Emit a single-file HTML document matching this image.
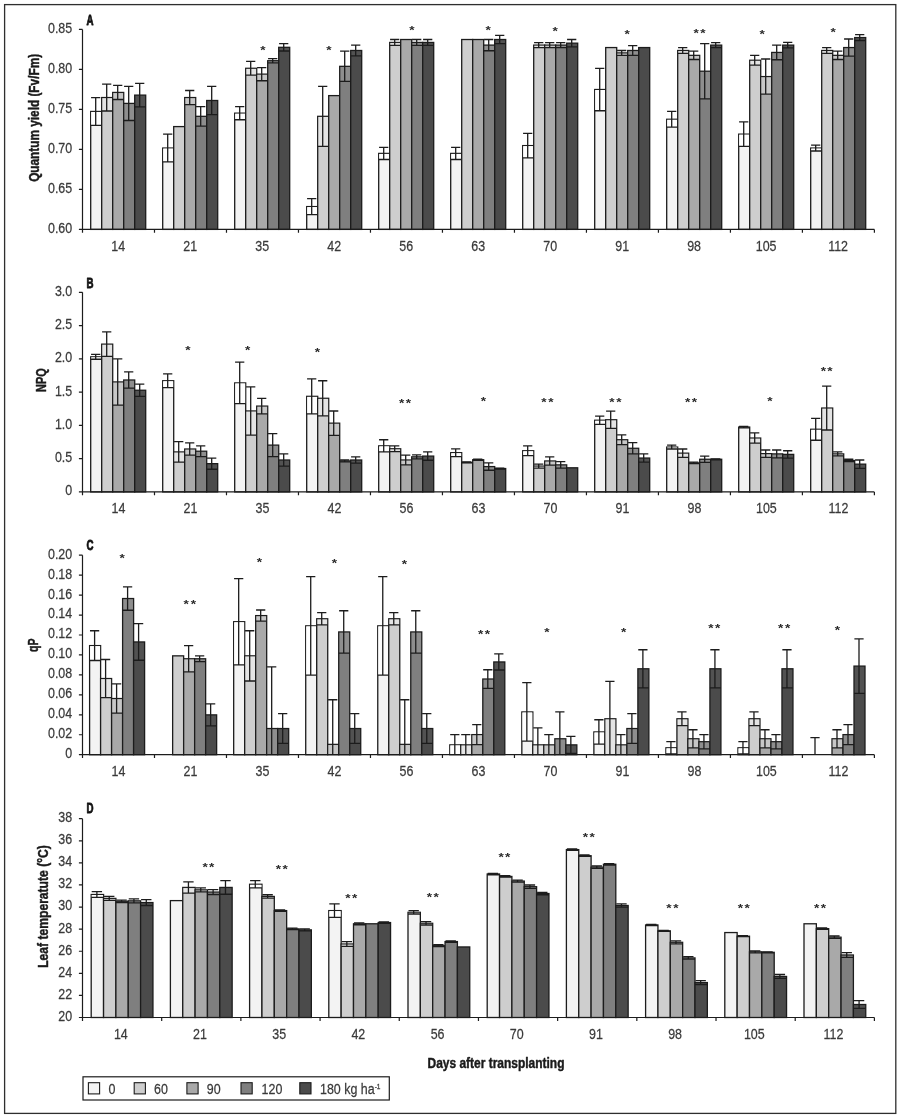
<!DOCTYPE html>
<html lang="en">
<head>
<meta charset="utf-8">
<title>Figure</title>
<style>
html,body{margin:0;padding:0;background:#fff;}
body{width:902px;height:1119px;overflow:hidden;}
svg{display:block;font-family:"Liberation Sans",sans-serif;}
</style>
</head>
<body>
<svg width="902" height="1119" viewBox="0 0 902 1119">
<rect x="0" y="0" width="902" height="1119" fill="#ffffff"/>
<rect x="4.6" y="4.6" width="891.2" height="1108.8" fill="none" stroke="#2e2e2e" stroke-width="1.3"/>
<g id="chartA">
<g stroke="#1c1c1c" stroke-width="1.3">
<rect x="90.7" y="111.46" width="11" height="117.94" fill="#f3f3f3"/>
<rect x="91.2" y="111.96" width="10" height="13.4" fill="#fff" fill-opacity="1" stroke="none"/>
<path d="M95.7 97.56V125.37M91.08 97.56H100.32M90.7 125.37H101.7" fill="none"/>
<rect x="101.7" y="97.56" width="11" height="131.84" fill="#cecece"/>
<rect x="102.2" y="98.06" width="10" height="12.91" fill="#fff" fill-opacity="0.45" stroke="none"/>
<path d="M106.7 84.15V110.98M102.08 84.15H111.32M101.7 110.98H112.7" fill="none"/>
<rect x="112.7" y="92.44" width="11" height="136.96" fill="#a9a9a9"/>
<rect x="113.2" y="92.94" width="10" height="6.57" fill="#fff" fill-opacity="0.35" stroke="none"/>
<path d="M117.7 85.37V99.51M113.08 85.37H122.32M112.7 99.51H123.7" fill="none"/>
<rect x="123.7" y="103.41" width="11" height="125.99" fill="#7f7f7f"/>
<rect x="124.2" y="103.91" width="10" height="16.57" fill="#fff" fill-opacity="0.12" stroke="none"/>
<path d="M128.7 86.34V120.49M124.08 86.34H133.32M123.7 120.49H134.7" fill="none"/>
<rect x="134.7" y="95.12" width="11" height="134.28" fill="#4b4b4b"/>
<rect x="135.2" y="95.62" width="10" height="11.21" fill="#fff" fill-opacity="0.04" stroke="none"/>
<path d="M139.7 83.41V106.83M135.08 83.41H144.32M134.7 106.83H145.7" fill="none"/>
<rect x="162.7" y="148.05" width="11" height="81.35" fill="#f3f3f3"/>
<rect x="163.2" y="148.55" width="10" height="13.4" fill="#fff" fill-opacity="1" stroke="none"/>
<path d="M167.7 134.15V161.95M163.08 134.15H172.32M162.7 161.95H173.7" fill="none"/>
<rect x="173.7" y="126.59" width="11" height="102.81" fill="#cecece"/>
<rect x="184.7" y="97.56" width="11" height="131.84" fill="#a9a9a9"/>
<rect x="185.2" y="98.06" width="10" height="6.57" fill="#fff" fill-opacity="0.35" stroke="none"/>
<path d="M189.7 90.49V104.63M185.08 90.49H194.32M184.7 104.63H195.7" fill="none"/>
<rect x="195.7" y="116.34" width="11" height="113.06" fill="#7f7f7f"/>
<rect x="196.2" y="116.84" width="10" height="9.26" fill="#fff" fill-opacity="0.12" stroke="none"/>
<path d="M200.7 106.59V126.1M196.08 106.59H205.32M195.7 126.1H206.7" fill="none"/>
<rect x="206.7" y="100.49" width="11" height="128.91" fill="#4b4b4b"/>
<rect x="207.2" y="100.99" width="10" height="13.65" fill="#fff" fill-opacity="0.04" stroke="none"/>
<path d="M211.7 86.34V114.63M207.08 86.34H216.32M206.7 114.63H217.7" fill="none"/>
<rect x="234.7" y="113.17" width="11" height="116.23" fill="#f3f3f3"/>
<rect x="235.2" y="113.67" width="10" height="6.09" fill="#fff" fill-opacity="1" stroke="none"/>
<path d="M239.7 106.59V119.76M235.08 106.59H244.32M234.7 119.76H245.7" fill="none"/>
<rect x="245.7" y="68.29" width="11" height="161.11" fill="#cecece"/>
<rect x="246.2" y="68.79" width="10" height="6.33" fill="#fff" fill-opacity="0.45" stroke="none"/>
<path d="M250.7 61.46V75.12M246.08 61.46H255.32M245.7 75.12H256.7" fill="none"/>
<rect x="256.7" y="74.15" width="11" height="155.25" fill="#a9a9a9"/>
<rect x="257.2" y="74.65" width="10" height="6.09" fill="#fff" fill-opacity="0.35" stroke="none"/>
<path d="M261.7 67.56V80.73M257.08 67.56H266.32M256.7 80.73H267.7" fill="none"/>
<rect x="267.7" y="60.73" width="11" height="168.67" fill="#7f7f7f"/>
<rect x="268.2" y="61.23" width="10" height="1.7" fill="#fff" fill-opacity="0.12" stroke="none"/>
<path d="M272.7 58.54V62.93M268.08 58.54H277.32M267.7 62.93H278.7" fill="none"/>
<rect x="278.7" y="47.32" width="11" height="182.08" fill="#4b4b4b"/>
<rect x="279.2" y="47.82" width="10" height="3.16" fill="#fff" fill-opacity="0.04" stroke="none"/>
<path d="M283.7 43.66V50.98M279.08 43.66H288.32M278.7 50.98H289.7" fill="none"/>
<rect x="306.7" y="206.59" width="11" height="22.81" fill="#f3f3f3"/>
<rect x="307.2" y="207.09" width="10" height="7.55" fill="#fff" fill-opacity="1" stroke="none"/>
<path d="M311.7 198.54V214.63M307.08 198.54H316.32M306.7 214.63H317.7" fill="none"/>
<rect x="317.7" y="116.34" width="11" height="113.06" fill="#cecece"/>
<rect x="318.2" y="116.84" width="10" height="29.5" fill="#fff" fill-opacity="0.45" stroke="none"/>
<path d="M322.7 86.34V146.34M318.08 86.34H327.32M317.7 146.34H328.7" fill="none"/>
<rect x="328.7" y="95.61" width="11" height="133.79" fill="#a9a9a9"/>
<rect x="339.7" y="66.34" width="11" height="163.06" fill="#7f7f7f"/>
<rect x="340.2" y="66.84" width="10" height="14.62" fill="#fff" fill-opacity="0.12" stroke="none"/>
<path d="M344.7 51.22V81.46M340.08 51.22H349.32M339.7 81.46H350.7" fill="none"/>
<rect x="350.7" y="50.49" width="11" height="178.91" fill="#4b4b4b"/>
<rect x="351.2" y="50.99" width="10" height="4.87" fill="#fff" fill-opacity="0.04" stroke="none"/>
<path d="M355.7 45.12V55.85M351.08 45.12H360.32M350.7 55.85H361.7" fill="none"/>
<rect x="378.7" y="153.41" width="11" height="75.99" fill="#f3f3f3"/>
<rect x="379.2" y="153.91" width="10" height="5.6" fill="#fff" fill-opacity="1" stroke="none"/>
<path d="M383.7 147.32V159.51M379.08 147.32H388.32M378.7 159.51H389.7" fill="none"/>
<rect x="389.7" y="42.44" width="11" height="186.96" fill="#cecece"/>
<rect x="390.2" y="42.94" width="10" height="2.43" fill="#fff" fill-opacity="0.45" stroke="none"/>
<path d="M394.7 39.51V45.37M390.08 39.51H399.32M389.7 45.37H400.7" fill="none"/>
<rect x="400.7" y="39.51" width="11" height="189.89" fill="#a9a9a9"/>
<rect x="411.7" y="42.44" width="11" height="186.96" fill="#7f7f7f"/>
<rect x="412.2" y="42.94" width="10" height="2.43" fill="#fff" fill-opacity="0.12" stroke="none"/>
<path d="M416.7 39.51V45.37M412.08 39.51H421.32M411.7 45.37H422.7" fill="none"/>
<rect x="422.7" y="42.44" width="11" height="186.96" fill="#4b4b4b"/>
<rect x="423.2" y="42.94" width="10" height="2.43" fill="#fff" fill-opacity="0.04" stroke="none"/>
<path d="M427.7 39.51V45.37M423.08 39.51H432.32M422.7 45.37H433.7" fill="none"/>
<rect x="450.7" y="153.41" width="11" height="75.99" fill="#f3f3f3"/>
<rect x="451.2" y="153.91" width="10" height="5.6" fill="#fff" fill-opacity="1" stroke="none"/>
<path d="M455.7 147.32V159.51M451.08 147.32H460.32M450.7 159.51H461.7" fill="none"/>
<rect x="461.7" y="39.51" width="11" height="189.89" fill="#cecece"/>
<rect x="472.7" y="39.51" width="11" height="189.89" fill="#a9a9a9"/>
<rect x="483.7" y="45.12" width="11" height="184.28" fill="#7f7f7f"/>
<rect x="484.2" y="45.62" width="10" height="5.11" fill="#fff" fill-opacity="0.12" stroke="none"/>
<path d="M488.7 39.51V50.73M484.08 39.51H493.32M483.7 50.73H494.7" fill="none"/>
<rect x="494.7" y="39.51" width="11" height="189.89" fill="#4b4b4b"/>
<rect x="495.2" y="40.01" width="10" height="3.65" fill="#fff" fill-opacity="0.04" stroke="none"/>
<path d="M499.7 35.37V43.66M495.08 35.37H504.32M494.7 43.66H505.7" fill="none"/>
<rect x="522.7" y="145.61" width="11" height="83.79" fill="#f3f3f3"/>
<rect x="523.2" y="146.11" width="10" height="11.7" fill="#fff" fill-opacity="1" stroke="none"/>
<path d="M527.7 133.41V157.8M523.08 133.41H532.32M522.7 157.8H533.7" fill="none"/>
<rect x="533.7" y="45.12" width="11" height="184.28" fill="#cecece"/>
<rect x="534.2" y="45.62" width="10" height="1.94" fill="#fff" fill-opacity="0.45" stroke="none"/>
<path d="M538.7 42.68V47.56M534.08 42.68H543.32M533.7 47.56H544.7" fill="none"/>
<rect x="544.7" y="45.12" width="11" height="184.28" fill="#a9a9a9"/>
<rect x="545.2" y="45.62" width="10" height="1.94" fill="#fff" fill-opacity="0.35" stroke="none"/>
<path d="M549.7 42.68V47.56M545.08 42.68H554.32M544.7 47.56H555.7" fill="none"/>
<rect x="555.7" y="45.12" width="11" height="184.28" fill="#7f7f7f"/>
<rect x="556.2" y="45.62" width="10" height="1.94" fill="#fff" fill-opacity="0.12" stroke="none"/>
<path d="M560.7 42.68V47.56M556.08 42.68H565.32M555.7 47.56H566.7" fill="none"/>
<rect x="566.7" y="43.17" width="11" height="186.23" fill="#4b4b4b"/>
<rect x="567.2" y="43.67" width="10" height="3.16" fill="#fff" fill-opacity="0.04" stroke="none"/>
<path d="M571.7 39.51V46.83M567.08 39.51H576.32M566.7 46.83H577.7" fill="none"/>
<rect x="594.7" y="89.51" width="11" height="139.89" fill="#f3f3f3"/>
<rect x="595.2" y="90.01" width="10" height="20.72" fill="#fff" fill-opacity="1" stroke="none"/>
<path d="M599.7 68.29V110.73M595.08 68.29H604.32M594.7 110.73H605.7" fill="none"/>
<rect x="605.7" y="47.56" width="11" height="181.84" fill="#cecece"/>
<rect x="616.7" y="52.93" width="11" height="176.47" fill="#a9a9a9"/>
<rect x="617.2" y="53.43" width="10" height="1.94" fill="#fff" fill-opacity="0.35" stroke="none"/>
<path d="M621.7 50.49V55.37M617.08 50.49H626.32M616.7 55.37H627.7" fill="none"/>
<rect x="627.7" y="50.49" width="11" height="178.91" fill="#7f7f7f"/>
<rect x="628.2" y="50.99" width="10" height="4.38" fill="#fff" fill-opacity="0.12" stroke="none"/>
<path d="M632.7 45.61V55.37M628.08 45.61H637.32M627.7 55.37H638.7" fill="none"/>
<rect x="638.7" y="47.56" width="11" height="181.84" fill="#4b4b4b"/>
<rect x="666.7" y="119.27" width="11" height="110.13" fill="#f3f3f3"/>
<rect x="667.2" y="119.77" width="10" height="7.3" fill="#fff" fill-opacity="1" stroke="none"/>
<path d="M671.7 111.46V127.07M667.08 111.46H676.32M666.7 127.07H677.7" fill="none"/>
<rect x="677.7" y="50.49" width="11" height="178.91" fill="#cecece"/>
<rect x="678.2" y="50.99" width="10" height="2.43" fill="#fff" fill-opacity="0.45" stroke="none"/>
<path d="M682.7 47.56V53.41M678.08 47.56H687.32M677.7 53.41H688.7" fill="none"/>
<rect x="688.7" y="55.37" width="11" height="174.03" fill="#a9a9a9"/>
<rect x="689.2" y="55.87" width="10" height="3.65" fill="#fff" fill-opacity="0.35" stroke="none"/>
<path d="M693.7 51.22V59.51M689.08 51.22H698.32M688.7 59.51H699.7" fill="none"/>
<rect x="699.7" y="71.22" width="11" height="158.18" fill="#7f7f7f"/>
<rect x="700.2" y="71.72" width="10" height="27.06" fill="#fff" fill-opacity="0.12" stroke="none"/>
<path d="M704.7 43.66V98.78M700.08 43.66H709.32M699.7 98.78H710.7" fill="none"/>
<rect x="710.7" y="45.12" width="11" height="184.28" fill="#4b4b4b"/>
<rect x="711.2" y="45.62" width="10" height="1.94" fill="#fff" fill-opacity="0.04" stroke="none"/>
<path d="M715.7 42.68V47.56M711.08 42.68H720.32M710.7 47.56H721.7" fill="none"/>
<rect x="738.7" y="134.15" width="11" height="95.25" fill="#f3f3f3"/>
<rect x="739.2" y="134.65" width="10" height="11.7" fill="#fff" fill-opacity="1" stroke="none"/>
<path d="M743.7 121.95V146.34M739.08 121.95H748.32M738.7 146.34H749.7" fill="none"/>
<rect x="749.7" y="60.24" width="11" height="169.16" fill="#cecece"/>
<rect x="750.2" y="60.74" width="10" height="4.38" fill="#fff" fill-opacity="0.45" stroke="none"/>
<path d="M754.7 55.37V65.12M750.08 55.37H759.32M749.7 65.12H760.7" fill="none"/>
<rect x="760.7" y="76.59" width="11" height="152.81" fill="#a9a9a9"/>
<rect x="761.2" y="77.09" width="10" height="17.06" fill="#fff" fill-opacity="0.35" stroke="none"/>
<path d="M765.7 59.02V94.15M761.08 59.02H770.32M760.7 94.15H771.7" fill="none"/>
<rect x="771.7" y="52.44" width="11" height="176.96" fill="#7f7f7f"/>
<rect x="772.2" y="52.94" width="10" height="6.82" fill="#fff" fill-opacity="0.12" stroke="none"/>
<path d="M776.7 45.12V59.76M772.08 45.12H781.32M771.7 59.76H782.7" fill="none"/>
<rect x="782.7" y="45.12" width="11" height="184.28" fill="#4b4b4b"/>
<rect x="783.2" y="45.62" width="10" height="2.18" fill="#fff" fill-opacity="0.04" stroke="none"/>
<path d="M787.7 42.44V47.8M783.08 42.44H792.32M782.7 47.8H793.7" fill="none"/>
<rect x="810.7" y="148.05" width="11" height="81.35" fill="#f3f3f3"/>
<rect x="811.2" y="148.55" width="10" height="2.43" fill="#fff" fill-opacity="1" stroke="none"/>
<path d="M815.7 145.12V150.98M811.08 145.12H820.32M810.7 150.98H821.7" fill="none"/>
<rect x="821.7" y="50.49" width="11" height="178.91" fill="#cecece"/>
<rect x="822.2" y="50.99" width="10" height="2.43" fill="#fff" fill-opacity="0.45" stroke="none"/>
<path d="M826.7 47.56V53.41M822.08 47.56H831.32M821.7 53.41H832.7" fill="none"/>
<rect x="832.7" y="55.37" width="11" height="174.03" fill="#a9a9a9"/>
<rect x="833.2" y="55.87" width="10" height="3.65" fill="#fff" fill-opacity="0.35" stroke="none"/>
<path d="M837.7 51.22V59.51M833.08 51.22H842.32M832.7 59.51H843.7" fill="none"/>
<rect x="843.7" y="47.56" width="11" height="181.84" fill="#7f7f7f"/>
<rect x="844.2" y="48.06" width="10" height="8.04" fill="#fff" fill-opacity="0.12" stroke="none"/>
<path d="M848.7 39.02V56.1M844.08 39.02H853.32M843.7 56.1H854.7" fill="none"/>
<rect x="854.7" y="37.56" width="11" height="191.84" fill="#4b4b4b"/>
<rect x="855.2" y="38.06" width="10" height="2.43" fill="#fff" fill-opacity="0.04" stroke="none"/>
<path d="M859.7 34.63V40.49M855.08 34.63H864.32M854.7 40.49H865.7" fill="none"/>
</g>
<path d="M82.5 29.4V229.4H874.4M78.9 29.4H82.5M78.9 69.4H82.5M78.9 109.4H82.5M78.9 149.4H82.5M78.9 189.4H82.5M78.9 229.4H82.5M82.5 229.4V232.8M154.49 229.4V232.8M226.48 229.4V232.8M298.47 229.4V232.8M370.46 229.4V232.8M442.45 229.4V232.8M514.45 229.4V232.8M586.44 229.4V232.8M658.43 229.4V232.8M730.42 229.4V232.8M802.41 229.4V232.8M874.4 229.4V232.8" fill="none" stroke="#1c1c1c" stroke-width="1.2"/>
<text transform="translate(72.2 32.8) scale(0.82 1)" text-anchor="end" font-size="15.2" stroke="#3a3a3a" stroke-width="0.25" stroke-linejoin="round" fill="#3a3a3a">0.85</text>
<text transform="translate(72.2 72.8) scale(0.82 1)" text-anchor="end" font-size="15.2" stroke="#3a3a3a" stroke-width="0.25" stroke-linejoin="round" fill="#3a3a3a">0.80</text>
<text transform="translate(72.2 112.8) scale(0.82 1)" text-anchor="end" font-size="15.2" stroke="#3a3a3a" stroke-width="0.25" stroke-linejoin="round" fill="#3a3a3a">0.75</text>
<text transform="translate(72.2 152.8) scale(0.82 1)" text-anchor="end" font-size="15.2" stroke="#3a3a3a" stroke-width="0.25" stroke-linejoin="round" fill="#3a3a3a">0.70</text>
<text transform="translate(72.2 192.8) scale(0.82 1)" text-anchor="end" font-size="15.2" stroke="#3a3a3a" stroke-width="0.25" stroke-linejoin="round" fill="#3a3a3a">0.65</text>
<text transform="translate(72.2 232.8) scale(0.82 1)" text-anchor="end" font-size="15.2" stroke="#3a3a3a" stroke-width="0.25" stroke-linejoin="round" fill="#3a3a3a">0.60</text>
<text transform="translate(118.2 250.7) scale(0.82 1)" text-anchor="middle" font-size="15.2" stroke="#3a3a3a" stroke-width="0.25" stroke-linejoin="round" fill="#3a3a3a">14</text>
<text transform="translate(190.19 250.7) scale(0.82 1)" text-anchor="middle" font-size="15.2" stroke="#3a3a3a" stroke-width="0.25" stroke-linejoin="round" fill="#3a3a3a">21</text>
<text transform="translate(262.18 250.7) scale(0.82 1)" text-anchor="middle" font-size="15.2" stroke="#3a3a3a" stroke-width="0.25" stroke-linejoin="round" fill="#3a3a3a">35</text>
<text transform="translate(334.17 250.7) scale(0.82 1)" text-anchor="middle" font-size="15.2" stroke="#3a3a3a" stroke-width="0.25" stroke-linejoin="round" fill="#3a3a3a">42</text>
<text transform="translate(406.16 250.7) scale(0.82 1)" text-anchor="middle" font-size="15.2" stroke="#3a3a3a" stroke-width="0.25" stroke-linejoin="round" fill="#3a3a3a">56</text>
<text transform="translate(478.15 250.7) scale(0.82 1)" text-anchor="middle" font-size="15.2" stroke="#3a3a3a" stroke-width="0.25" stroke-linejoin="round" fill="#3a3a3a">63</text>
<text transform="translate(550.14 250.7) scale(0.82 1)" text-anchor="middle" font-size="15.2" stroke="#3a3a3a" stroke-width="0.25" stroke-linejoin="round" fill="#3a3a3a">70</text>
<text transform="translate(622.13 250.7) scale(0.82 1)" text-anchor="middle" font-size="15.2" stroke="#3a3a3a" stroke-width="0.25" stroke-linejoin="round" fill="#3a3a3a">91</text>
<text transform="translate(694.12 250.7) scale(0.82 1)" text-anchor="middle" font-size="15.2" stroke="#3a3a3a" stroke-width="0.25" stroke-linejoin="round" fill="#3a3a3a">98</text>
<text transform="translate(766.11 250.7) scale(0.82 1)" text-anchor="middle" font-size="15.2" stroke="#3a3a3a" stroke-width="0.25" stroke-linejoin="round" fill="#3a3a3a">105</text>
<text transform="translate(838.1 250.7) scale(0.82 1)" text-anchor="middle" font-size="15.2" stroke="#3a3a3a" stroke-width="0.25" stroke-linejoin="round" fill="#3a3a3a">112</text>
<text transform="translate(38.6 117.9) rotate(-90) scale(0.81 1)" text-anchor="middle" font-size="14.6" font-weight="bold" stroke="#1a1a1a" stroke-width="0.45" stroke-linejoin="round" fill="#1a1a1a">Quantum yield (Fv/Fm)</text>
<text transform="translate(86.5 24.7) scale(0.64 1)" text-anchor="start" font-size="15.2" font-weight="bold" stroke="#111" stroke-width="0.85" stroke-linejoin="round" fill="#111">A</text>
<text transform="translate(262.9 53.5) scale(1.3 1)" text-anchor="middle" font-size="10.5" font-weight="bold" fill="#2a2a2a">*</text>
<text transform="translate(328.9 53.5) scale(1.3 1)" text-anchor="middle" font-size="10.5" font-weight="bold" fill="#2a2a2a">*</text>
<text transform="translate(411.9 33.5) scale(1.3 1)" text-anchor="middle" font-size="10.5" font-weight="bold" fill="#2a2a2a">*</text>
<text transform="translate(488.2 33.5) scale(1.3 1)" text-anchor="middle" font-size="10.5" font-weight="bold" fill="#2a2a2a">*</text>
<text transform="translate(555.2 34.8) scale(1.3 1)" text-anchor="middle" font-size="10.5" font-weight="bold" fill="#2a2a2a">*</text>
<text transform="translate(627.1 37.7) scale(1.3 1)" text-anchor="middle" font-size="10.5" font-weight="bold" fill="#2a2a2a">*</text>
<text transform="translate(696.1 36.5) scale(1.3 1)" text-anchor="middle" font-size="10.5" font-weight="bold" fill="#2a2a2a">*</text>
<text transform="translate(703 36.5) scale(1.3 1)" text-anchor="middle" font-size="10.5" font-weight="bold" fill="#2a2a2a">*</text>
<text transform="translate(762.2 37.7) scale(1.3 1)" text-anchor="middle" font-size="10.5" font-weight="bold" fill="#2a2a2a">*</text>
<text transform="translate(833.2 35.7) scale(1.3 1)" text-anchor="middle" font-size="10.5" font-weight="bold" fill="#2a2a2a">*</text>
</g>
<g id="chartB">
<g stroke="#1c1c1c" stroke-width="1.3">
<rect x="90.7" y="356.83" width="11" height="135.07" fill="#f3f3f3"/>
<rect x="91.2" y="357.33" width="10" height="1.94" fill="#fff" fill-opacity="1" stroke="none"/>
<path d="M95.7 354.39V359.27M91.08 354.39H100.32M90.7 359.27H101.7" fill="none"/>
<rect x="101.7" y="344.15" width="11" height="147.75" fill="#cecece"/>
<rect x="102.2" y="344.65" width="10" height="11.7" fill="#fff" fill-opacity="0.45" stroke="none"/>
<path d="M106.7 331.95V356.34M102.08 331.95H111.32M101.7 356.34H112.7" fill="none"/>
<rect x="112.7" y="381.95" width="11" height="109.95" fill="#a9a9a9"/>
<rect x="113.2" y="382.45" width="10" height="22.67" fill="#fff" fill-opacity="0.35" stroke="none"/>
<path d="M117.7 358.78V405.12M113.08 358.78H122.32M112.7 405.12H123.7" fill="none"/>
<rect x="123.7" y="380" width="11" height="111.9" fill="#7f7f7f"/>
<rect x="124.2" y="380.5" width="10" height="7.55" fill="#fff" fill-opacity="0.12" stroke="none"/>
<path d="M128.7 371.95V388.05M124.08 371.95H133.32M123.7 388.05H134.7" fill="none"/>
<rect x="134.7" y="390.24" width="11" height="101.66" fill="#4b4b4b"/>
<rect x="135.2" y="390.74" width="10" height="5.6" fill="#fff" fill-opacity="0.04" stroke="none"/>
<path d="M139.7 384.15V396.34M135.08 384.15H144.32M134.7 396.34H145.7" fill="none"/>
<rect x="162.7" y="380.73" width="11" height="111.17" fill="#f3f3f3"/>
<rect x="163.2" y="381.23" width="10" height="6.33" fill="#fff" fill-opacity="1" stroke="none"/>
<path d="M167.7 373.9V387.56M163.08 373.9H172.32M162.7 387.56H173.7" fill="none"/>
<rect x="173.7" y="451.95" width="11" height="39.95" fill="#cecece"/>
<rect x="174.2" y="452.45" width="10" height="9.74" fill="#fff" fill-opacity="0.45" stroke="none"/>
<path d="M178.7 441.71V462.2M174.08 441.71H183.32M173.7 462.2H184.7" fill="none"/>
<rect x="184.7" y="449.02" width="11" height="42.88" fill="#a9a9a9"/>
<rect x="185.2" y="449.52" width="10" height="5.6" fill="#fff" fill-opacity="0.35" stroke="none"/>
<path d="M189.7 442.93V455.12M185.08 442.93H194.32M184.7 455.12H195.7" fill="none"/>
<rect x="195.7" y="451.22" width="11" height="40.68" fill="#7f7f7f"/>
<rect x="196.2" y="451.72" width="10" height="4.87" fill="#fff" fill-opacity="0.12" stroke="none"/>
<path d="M200.7 445.85V456.59M196.08 445.85H205.32M195.7 456.59H206.7" fill="none"/>
<rect x="206.7" y="463.66" width="11" height="28.24" fill="#4b4b4b"/>
<rect x="207.2" y="464.16" width="10" height="5.11" fill="#fff" fill-opacity="0.04" stroke="none"/>
<path d="M211.7 458.05V469.27M207.08 458.05H216.32M206.7 469.27H217.7" fill="none"/>
<rect x="234.7" y="382.93" width="11" height="108.97" fill="#f3f3f3"/>
<rect x="235.2" y="383.43" width="10" height="20.23" fill="#fff" fill-opacity="1" stroke="none"/>
<path d="M239.7 362.2V403.66M235.08 362.2H244.32M234.7 403.66H245.7" fill="none"/>
<rect x="245.7" y="410.98" width="11" height="80.92" fill="#cecece"/>
<rect x="246.2" y="411.48" width="10" height="23.65" fill="#fff" fill-opacity="0.45" stroke="none"/>
<path d="M250.7 386.83V435.12M246.08 386.83H255.32M245.7 435.12H256.7" fill="none"/>
<rect x="256.7" y="406.1" width="11" height="85.8" fill="#a9a9a9"/>
<rect x="257.2" y="406.6" width="10" height="7.3" fill="#fff" fill-opacity="0.35" stroke="none"/>
<path d="M261.7 398.29V413.9M257.08 398.29H266.32M256.7 413.9H267.7" fill="none"/>
<rect x="267.7" y="445.12" width="11" height="46.78" fill="#7f7f7f"/>
<rect x="268.2" y="445.62" width="10" height="10.96" fill="#fff" fill-opacity="0.12" stroke="none"/>
<path d="M272.7 433.66V456.59M268.08 433.66H277.32M267.7 456.59H278.7" fill="none"/>
<rect x="278.7" y="460" width="11" height="31.9" fill="#4b4b4b"/>
<rect x="279.2" y="460.5" width="10" height="5.6" fill="#fff" fill-opacity="0.04" stroke="none"/>
<path d="M283.7 453.9V466.1M279.08 453.9H288.32M278.7 466.1H289.7" fill="none"/>
<rect x="306.7" y="396.34" width="11" height="95.56" fill="#f3f3f3"/>
<rect x="307.2" y="396.84" width="10" height="17.06" fill="#fff" fill-opacity="1" stroke="none"/>
<path d="M311.7 378.78V413.9M307.08 378.78H316.32M306.7 413.9H317.7" fill="none"/>
<rect x="317.7" y="398.29" width="11" height="93.61" fill="#cecece"/>
<rect x="318.2" y="398.79" width="10" height="17.06" fill="#fff" fill-opacity="0.45" stroke="none"/>
<path d="M322.7 380.73V415.85M318.08 380.73H327.32M317.7 415.85H328.7" fill="none"/>
<rect x="328.7" y="423.17" width="11" height="68.73" fill="#a9a9a9"/>
<rect x="329.2" y="423.67" width="10" height="11.7" fill="#fff" fill-opacity="0.35" stroke="none"/>
<path d="M333.7 410.98V435.37M329.08 410.98H338.32M328.7 435.37H339.7" fill="none"/>
<rect x="339.7" y="460.98" width="11" height="30.92" fill="#7f7f7f"/>
<rect x="340.2" y="461.48" width="10" height="0.48" fill="#fff" fill-opacity="0.12" stroke="none"/>
<path d="M344.7 460V461.95M340.08 460H349.32M339.7 461.95H350.7" fill="none"/>
<rect x="350.7" y="460" width="11" height="31.9" fill="#4b4b4b"/>
<rect x="351.2" y="460.5" width="10" height="2.67" fill="#fff" fill-opacity="0.04" stroke="none"/>
<path d="M355.7 456.83V463.17M351.08 456.83H360.32M350.7 463.17H361.7" fill="none"/>
<rect x="378.7" y="445.85" width="11" height="46.05" fill="#f3f3f3"/>
<rect x="379.2" y="446.35" width="10" height="5.6" fill="#fff" fill-opacity="1" stroke="none"/>
<path d="M383.7 439.76V451.95M379.08 439.76H388.32M378.7 451.95H389.7" fill="none"/>
<rect x="389.7" y="448.78" width="11" height="43.12" fill="#cecece"/>
<rect x="390.2" y="449.28" width="10" height="2.43" fill="#fff" fill-opacity="0.45" stroke="none"/>
<path d="M394.7 445.85V451.71M390.08 445.85H399.32M389.7 451.71H400.7" fill="none"/>
<rect x="400.7" y="460" width="11" height="31.9" fill="#a9a9a9"/>
<rect x="401.2" y="460.5" width="10" height="4.38" fill="#fff" fill-opacity="0.35" stroke="none"/>
<path d="M405.7 455.12V464.88M401.08 455.12H410.32M400.7 464.88H411.7" fill="none"/>
<rect x="411.7" y="456.83" width="11" height="35.07" fill="#7f7f7f"/>
<rect x="412.2" y="457.33" width="10" height="1.45" fill="#fff" fill-opacity="0.12" stroke="none"/>
<path d="M416.7 454.88V458.78M412.08 454.88H421.32M411.7 458.78H422.7" fill="none"/>
<rect x="422.7" y="456.1" width="11" height="35.8" fill="#4b4b4b"/>
<rect x="423.2" y="456.6" width="10" height="3.65" fill="#fff" fill-opacity="0.04" stroke="none"/>
<path d="M427.7 451.95V460.24M423.08 451.95H432.32M422.7 460.24H433.7" fill="none"/>
<rect x="450.7" y="452.68" width="11" height="39.22" fill="#f3f3f3"/>
<rect x="451.2" y="453.18" width="10" height="3.4" fill="#fff" fill-opacity="1" stroke="none"/>
<path d="M455.7 448.78V456.59M451.08 448.78H460.32M450.7 456.59H461.7" fill="none"/>
<rect x="461.7" y="462.44" width="11" height="29.46" fill="#cecece"/>
<path d="M466.7 461.95V462.93M462.08 461.95H471.32M461.7 462.93H472.7" fill="none"/>
<rect x="472.7" y="459.76" width="11" height="32.14" fill="#a9a9a9"/>
<path d="M477.7 459.27V460.24M473.08 459.27H482.32M472.7 460.24H483.7" fill="none"/>
<rect x="483.7" y="466.59" width="11" height="25.31" fill="#7f7f7f"/>
<rect x="484.2" y="467.09" width="10" height="3.16" fill="#fff" fill-opacity="0.12" stroke="none"/>
<path d="M488.7 462.93V470.24M484.08 462.93H493.32M483.7 470.24H494.7" fill="none"/>
<rect x="494.7" y="468.54" width="11" height="23.36" fill="#4b4b4b"/>
<path d="M499.7 468.05V469.02M495.08 468.05H504.32M494.7 469.02H505.7" fill="none"/>
<rect x="522.7" y="450.73" width="11" height="41.17" fill="#f3f3f3"/>
<rect x="523.2" y="451.23" width="10" height="4.38" fill="#fff" fill-opacity="1" stroke="none"/>
<path d="M527.7 445.85V455.61M523.08 445.85H532.32M522.7 455.61H533.7" fill="none"/>
<rect x="533.7" y="466.1" width="11" height="25.8" fill="#cecece"/>
<rect x="534.2" y="466.6" width="10" height="1.45" fill="#fff" fill-opacity="0.45" stroke="none"/>
<path d="M538.7 464.15V468.05M534.08 464.15H543.32M533.7 468.05H544.7" fill="none"/>
<rect x="544.7" y="460.98" width="11" height="30.92" fill="#a9a9a9"/>
<rect x="545.2" y="461.48" width="10" height="3.65" fill="#fff" fill-opacity="0.35" stroke="none"/>
<path d="M549.7 456.83V465.12M545.08 456.83H554.32M544.7 465.12H555.7" fill="none"/>
<rect x="555.7" y="464.88" width="11" height="27.02" fill="#7f7f7f"/>
<rect x="556.2" y="465.38" width="10" height="2.67" fill="#fff" fill-opacity="0.12" stroke="none"/>
<path d="M560.7 461.71V468.05M556.08 461.71H565.32M555.7 468.05H566.7" fill="none"/>
<rect x="566.7" y="467.8" width="11" height="24.1" fill="#4b4b4b"/>
<rect x="594.7" y="420.24" width="11" height="71.66" fill="#f3f3f3"/>
<rect x="595.2" y="420.74" width="10" height="3.65" fill="#fff" fill-opacity="1" stroke="none"/>
<path d="M599.7 416.1V424.39M595.08 416.1H604.32M594.7 424.39H605.7" fill="none"/>
<rect x="605.7" y="419.76" width="11" height="72.14" fill="#cecece"/>
<rect x="606.2" y="420.26" width="10" height="8.04" fill="#fff" fill-opacity="0.45" stroke="none"/>
<path d="M610.7 411.22V428.29M606.08 411.22H615.32M605.7 428.29H616.7" fill="none"/>
<rect x="616.7" y="439.76" width="11" height="52.14" fill="#a9a9a9"/>
<rect x="617.2" y="440.26" width="10" height="4.38" fill="#fff" fill-opacity="0.35" stroke="none"/>
<path d="M621.7 434.88V444.63M617.08 434.88H626.32M616.7 444.63H627.7" fill="none"/>
<rect x="627.7" y="448.29" width="11" height="43.61" fill="#7f7f7f"/>
<rect x="628.2" y="448.79" width="10" height="5.11" fill="#fff" fill-opacity="0.12" stroke="none"/>
<path d="M632.7 442.68V453.9M628.08 442.68H637.32M627.7 453.9H638.7" fill="none"/>
<rect x="638.7" y="458.05" width="11" height="33.85" fill="#4b4b4b"/>
<rect x="639.2" y="458.55" width="10" height="3.65" fill="#fff" fill-opacity="0.04" stroke="none"/>
<path d="M643.7 453.9V462.2M639.08 453.9H648.32M638.7 462.2H649.7" fill="none"/>
<rect x="666.7" y="447.07" width="11" height="44.83" fill="#f3f3f3"/>
<rect x="667.2" y="447.57" width="10" height="1.45" fill="#fff" fill-opacity="1" stroke="none"/>
<path d="M671.7 445.12V449.02M667.08 445.12H676.32M666.7 449.02H677.7" fill="none"/>
<rect x="677.7" y="453.17" width="11" height="38.73" fill="#cecece"/>
<rect x="678.2" y="453.67" width="10" height="3.65" fill="#fff" fill-opacity="0.45" stroke="none"/>
<path d="M682.7 449.02V457.32M678.08 449.02H687.32M677.7 457.32H688.7" fill="none"/>
<rect x="688.7" y="462.93" width="11" height="28.97" fill="#a9a9a9"/>
<path d="M693.7 462.2V463.66M689.08 462.2H698.32M688.7 463.66H699.7" fill="none"/>
<rect x="699.7" y="459.27" width="11" height="32.63" fill="#7f7f7f"/>
<rect x="700.2" y="459.77" width="10" height="2.67" fill="#fff" fill-opacity="0.12" stroke="none"/>
<path d="M704.7 456.1V462.44M700.08 456.1H709.32M699.7 462.44H710.7" fill="none"/>
<rect x="710.7" y="459.27" width="11" height="32.63" fill="#4b4b4b"/>
<path d="M715.7 458.78V459.76M711.08 458.78H720.32M710.7 459.76H721.7" fill="none"/>
<rect x="738.7" y="427.07" width="11" height="64.83" fill="#f3f3f3"/>
<path d="M743.7 426.34V427.8M739.08 426.34H748.32M738.7 427.8H749.7" fill="none"/>
<rect x="749.7" y="438.05" width="11" height="53.85" fill="#cecece"/>
<rect x="750.2" y="438.55" width="10" height="4.62" fill="#fff" fill-opacity="0.45" stroke="none"/>
<path d="M754.7 432.93V443.17M750.08 432.93H759.32M749.7 443.17H760.7" fill="none"/>
<rect x="760.7" y="453.66" width="11" height="38.24" fill="#a9a9a9"/>
<rect x="761.2" y="454.16" width="10" height="3.16" fill="#fff" fill-opacity="0.35" stroke="none"/>
<path d="M765.7 450V457.32M761.08 450H770.32M760.7 457.32H771.7" fill="none"/>
<rect x="771.7" y="453.9" width="11" height="38" fill="#7f7f7f"/>
<rect x="772.2" y="454.4" width="10" height="3.4" fill="#fff" fill-opacity="0.12" stroke="none"/>
<path d="M776.7 450V457.8M772.08 450H781.32M771.7 457.8H782.7" fill="none"/>
<rect x="782.7" y="454.39" width="11" height="37.51" fill="#4b4b4b"/>
<rect x="783.2" y="454.89" width="10" height="3.16" fill="#fff" fill-opacity="0.04" stroke="none"/>
<path d="M787.7 450.73V458.05M783.08 450.73H792.32M782.7 458.05H793.7" fill="none"/>
<rect x="810.7" y="429.27" width="11" height="62.63" fill="#f3f3f3"/>
<rect x="811.2" y="429.77" width="10" height="10.48" fill="#fff" fill-opacity="1" stroke="none"/>
<path d="M815.7 418.29V440.24M811.08 418.29H820.32M810.7 440.24H821.7" fill="none"/>
<rect x="821.7" y="408.05" width="11" height="83.85" fill="#cecece"/>
<rect x="822.2" y="408.55" width="10" height="21.45" fill="#fff" fill-opacity="0.45" stroke="none"/>
<path d="M826.7 386.1V430M822.08 386.1H831.32M821.7 430H832.7" fill="none"/>
<rect x="832.7" y="453.9" width="11" height="38" fill="#a9a9a9"/>
<rect x="833.2" y="454.4" width="10" height="1.45" fill="#fff" fill-opacity="0.35" stroke="none"/>
<path d="M837.7 451.95V455.85M833.08 451.95H842.32M832.7 455.85H843.7" fill="none"/>
<rect x="843.7" y="460.49" width="11" height="31.41" fill="#7f7f7f"/>
<rect x="844.2" y="460.99" width="10" height="0.72" fill="#fff" fill-opacity="0.12" stroke="none"/>
<path d="M848.7 459.27V461.71M844.08 459.27H853.32M843.7 461.71H854.7" fill="none"/>
<rect x="854.7" y="464.15" width="11" height="27.75" fill="#4b4b4b"/>
<rect x="855.2" y="464.65" width="10" height="3.65" fill="#fff" fill-opacity="0.04" stroke="none"/>
<path d="M859.7 460V468.29M855.08 460H864.32M854.7 468.29H865.7" fill="none"/>
</g>
<path d="M82.5 292.3V491.9H874.4M78.9 292.3H82.5M78.9 325.57H82.5M78.9 358.83H82.5M78.9 392.1H82.5M78.9 425.37H82.5M78.9 458.63H82.5M78.9 491.9H82.5M82.5 491.9V495.3M154.49 491.9V495.3M226.48 491.9V495.3M298.47 491.9V495.3M370.46 491.9V495.3M442.45 491.9V495.3M514.45 491.9V495.3M586.44 491.9V495.3M658.43 491.9V495.3M730.42 491.9V495.3M802.41 491.9V495.3M874.4 491.9V495.3" fill="none" stroke="#1c1c1c" stroke-width="1.2"/>
<text transform="translate(72.2 295.7) scale(0.82 1)" text-anchor="end" font-size="15.2" stroke="#3a3a3a" stroke-width="0.25" stroke-linejoin="round" fill="#3a3a3a">3.0</text>
<text transform="translate(72.2 328.97) scale(0.82 1)" text-anchor="end" font-size="15.2" stroke="#3a3a3a" stroke-width="0.25" stroke-linejoin="round" fill="#3a3a3a">2.5</text>
<text transform="translate(72.2 362.23) scale(0.82 1)" text-anchor="end" font-size="15.2" stroke="#3a3a3a" stroke-width="0.25" stroke-linejoin="round" fill="#3a3a3a">2.0</text>
<text transform="translate(72.2 395.5) scale(0.82 1)" text-anchor="end" font-size="15.2" stroke="#3a3a3a" stroke-width="0.25" stroke-linejoin="round" fill="#3a3a3a">1.5</text>
<text transform="translate(72.2 428.77) scale(0.82 1)" text-anchor="end" font-size="15.2" stroke="#3a3a3a" stroke-width="0.25" stroke-linejoin="round" fill="#3a3a3a">1.0</text>
<text transform="translate(72.2 462.03) scale(0.82 1)" text-anchor="end" font-size="15.2" stroke="#3a3a3a" stroke-width="0.25" stroke-linejoin="round" fill="#3a3a3a">0.5</text>
<text transform="translate(72.2 495.3) scale(0.82 1)" text-anchor="end" font-size="15.2" stroke="#3a3a3a" stroke-width="0.25" stroke-linejoin="round" fill="#3a3a3a">0</text>
<text transform="translate(118.5 513.2) scale(0.82 1)" text-anchor="middle" font-size="15.2" stroke="#3a3a3a" stroke-width="0.25" stroke-linejoin="round" fill="#3a3a3a">14</text>
<text transform="translate(190.49 513.2) scale(0.82 1)" text-anchor="middle" font-size="15.2" stroke="#3a3a3a" stroke-width="0.25" stroke-linejoin="round" fill="#3a3a3a">21</text>
<text transform="translate(262.48 513.2) scale(0.82 1)" text-anchor="middle" font-size="15.2" stroke="#3a3a3a" stroke-width="0.25" stroke-linejoin="round" fill="#3a3a3a">35</text>
<text transform="translate(334.47 513.2) scale(0.82 1)" text-anchor="middle" font-size="15.2" stroke="#3a3a3a" stroke-width="0.25" stroke-linejoin="round" fill="#3a3a3a">42</text>
<text transform="translate(406.46 513.2) scale(0.82 1)" text-anchor="middle" font-size="15.2" stroke="#3a3a3a" stroke-width="0.25" stroke-linejoin="round" fill="#3a3a3a">56</text>
<text transform="translate(478.45 513.2) scale(0.82 1)" text-anchor="middle" font-size="15.2" stroke="#3a3a3a" stroke-width="0.25" stroke-linejoin="round" fill="#3a3a3a">63</text>
<text transform="translate(550.44 513.2) scale(0.82 1)" text-anchor="middle" font-size="15.2" stroke="#3a3a3a" stroke-width="0.25" stroke-linejoin="round" fill="#3a3a3a">70</text>
<text transform="translate(622.43 513.2) scale(0.82 1)" text-anchor="middle" font-size="15.2" stroke="#3a3a3a" stroke-width="0.25" stroke-linejoin="round" fill="#3a3a3a">91</text>
<text transform="translate(694.42 513.2) scale(0.82 1)" text-anchor="middle" font-size="15.2" stroke="#3a3a3a" stroke-width="0.25" stroke-linejoin="round" fill="#3a3a3a">98</text>
<text transform="translate(766.41 513.2) scale(0.82 1)" text-anchor="middle" font-size="15.2" stroke="#3a3a3a" stroke-width="0.25" stroke-linejoin="round" fill="#3a3a3a">105</text>
<text transform="translate(838.4 513.2) scale(0.82 1)" text-anchor="middle" font-size="15.2" stroke="#3a3a3a" stroke-width="0.25" stroke-linejoin="round" fill="#3a3a3a">112</text>
<text transform="translate(45.7 380.1) rotate(-90) scale(0.75 1)" text-anchor="middle" font-size="14.6" font-weight="bold" stroke="#1a1a1a" stroke-width="0.45" stroke-linejoin="round" fill="#1a1a1a">NPQ</text>
<text transform="translate(86.5 287.5) scale(0.64 1)" text-anchor="start" font-size="15.2" font-weight="bold" stroke="#111" stroke-width="0.85" stroke-linejoin="round" fill="#111">B</text>
<text transform="translate(187.8 354.3) scale(1.3 1)" text-anchor="middle" font-size="10.5" font-weight="bold" fill="#2a2a2a">*</text>
<text transform="translate(247.6 354.3) scale(1.3 1)" text-anchor="middle" font-size="10.5" font-weight="bold" fill="#2a2a2a">*</text>
<text transform="translate(317.5 355.5) scale(1.3 1)" text-anchor="middle" font-size="10.5" font-weight="bold" fill="#2a2a2a">*</text>
<text transform="translate(401.6 407) scale(1.3 1)" text-anchor="middle" font-size="10.5" font-weight="bold" fill="#2a2a2a">*</text>
<text transform="translate(408.4 407) scale(1.3 1)" text-anchor="middle" font-size="10.5" font-weight="bold" fill="#2a2a2a">*</text>
<text transform="translate(483.3 405) scale(1.3 1)" text-anchor="middle" font-size="10.5" font-weight="bold" fill="#2a2a2a">*</text>
<text transform="translate(544 406.2) scale(1.3 1)" text-anchor="middle" font-size="10.5" font-weight="bold" fill="#2a2a2a">*</text>
<text transform="translate(551 406.2) scale(1.3 1)" text-anchor="middle" font-size="10.5" font-weight="bold" fill="#2a2a2a">*</text>
<text transform="translate(612 406.2) scale(1.3 1)" text-anchor="middle" font-size="10.5" font-weight="bold" fill="#2a2a2a">*</text>
<text transform="translate(618.8 406.2) scale(1.3 1)" text-anchor="middle" font-size="10.5" font-weight="bold" fill="#2a2a2a">*</text>
<text transform="translate(687.6 406.2) scale(1.3 1)" text-anchor="middle" font-size="10.5" font-weight="bold" fill="#2a2a2a">*</text>
<text transform="translate(694.4 406.2) scale(1.3 1)" text-anchor="middle" font-size="10.5" font-weight="bold" fill="#2a2a2a">*</text>
<text transform="translate(769.8 405) scale(1.3 1)" text-anchor="middle" font-size="10.5" font-weight="bold" fill="#2a2a2a">*</text>
<text transform="translate(823.4 374.5) scale(1.3 1)" text-anchor="middle" font-size="10.5" font-weight="bold" fill="#2a2a2a">*</text>
<text transform="translate(830 374.5) scale(1.3 1)" text-anchor="middle" font-size="10.5" font-weight="bold" fill="#2a2a2a">*</text>
</g>
<g id="chartC">
<g stroke="#1c1c1c" stroke-width="1.3">
<rect x="89.6" y="645.61" width="11" height="109.09" fill="#f3f3f3"/>
<rect x="90.1" y="646.11" width="10" height="14.38" fill="#fff" fill-opacity="1" stroke="none"/>
<path d="M94.6 630.73V660.49M89.98 630.73H99.22M89.6 660.49H100.6" fill="none"/>
<rect x="100.6" y="678.54" width="11" height="76.16" fill="#cecece"/>
<rect x="101.1" y="679.04" width="10" height="18.52" fill="#fff" fill-opacity="0.45" stroke="none"/>
<path d="M105.6 659.51V697.56M100.98 659.51H110.22M100.6 697.56H111.6" fill="none"/>
<rect x="111.6" y="698.54" width="11" height="56.16" fill="#a9a9a9"/>
<rect x="112.1" y="699.04" width="10" height="14.13" fill="#fff" fill-opacity="0.35" stroke="none"/>
<path d="M116.6 683.9V713.17M111.98 683.9H121.22M111.6 713.17H122.6" fill="none"/>
<rect x="122.6" y="598.54" width="11" height="156.16" fill="#7f7f7f"/>
<rect x="123.1" y="599.04" width="10" height="11.21" fill="#fff" fill-opacity="0.12" stroke="none"/>
<path d="M127.6 586.83V610.24M122.98 586.83H132.22M122.6 610.24H133.6" fill="none"/>
<rect x="133.6" y="641.95" width="11" height="112.75" fill="#4b4b4b"/>
<rect x="134.1" y="642.45" width="10" height="17.79" fill="#fff" fill-opacity="0.04" stroke="none"/>
<path d="M138.6 623.66V660.24M133.98 623.66H143.22M133.6 660.24H144.6" fill="none"/>
<rect x="172.64" y="655.85" width="11" height="98.85" fill="#cecece"/>
<rect x="183.64" y="658.78" width="11" height="95.92" fill="#a9a9a9"/>
<rect x="184.14" y="659.28" width="10" height="12.67" fill="#fff" fill-opacity="0.35" stroke="none"/>
<path d="M188.64 645.61V671.95M184.02 645.61H193.26M183.64 671.95H194.64" fill="none"/>
<rect x="194.64" y="658.78" width="11" height="95.92" fill="#7f7f7f"/>
<rect x="195.14" y="659.28" width="10" height="2.43" fill="#fff" fill-opacity="0.12" stroke="none"/>
<path d="M199.64 655.85V661.71M195.02 655.85H204.26M194.64 661.71H205.64" fill="none"/>
<rect x="205.64" y="714.88" width="11" height="39.82" fill="#4b4b4b"/>
<rect x="206.14" y="715.38" width="10" height="10.48" fill="#fff" fill-opacity="0.04" stroke="none"/>
<path d="M210.64 703.9V725.85M206.02 703.9H215.26M205.64 725.85H216.64" fill="none"/>
<rect x="233.68" y="621.71" width="11" height="132.99" fill="#f3f3f3"/>
<rect x="234.18" y="622.21" width="10" height="42.67" fill="#fff" fill-opacity="1" stroke="none"/>
<path d="M238.68 578.54V664.88M234.06 578.54H243.3M233.68 664.88H244.68" fill="none"/>
<rect x="244.68" y="655.85" width="11" height="98.85" fill="#cecece"/>
<rect x="245.18" y="656.35" width="10" height="24.62" fill="#fff" fill-opacity="0.45" stroke="none"/>
<path d="M249.68 630.73V680.98M245.06 630.73H254.3M244.68 680.98H255.68" fill="none"/>
<rect x="255.68" y="615.61" width="11" height="139.09" fill="#a9a9a9"/>
<rect x="256.18" y="616.11" width="10" height="5.11" fill="#fff" fill-opacity="0.35" stroke="none"/>
<path d="M260.68 610V621.22M256.06 610H265.3M255.68 621.22H266.68" fill="none"/>
<rect x="266.68" y="728.54" width="11" height="26.16" fill="#7f7f7f"/>
<rect x="267.18" y="729.04" width="10" height="25.66" fill="#fff" fill-opacity="0.12" stroke="none"/>
<path d="M271.68 666.83V754.7M267.06 666.83H276.3" fill="none"/>
<rect x="277.68" y="728.54" width="11" height="26.16" fill="#4b4b4b"/>
<rect x="278.18" y="729.04" width="10" height="14.38" fill="#fff" fill-opacity="0.04" stroke="none"/>
<path d="M282.68 713.66V743.41M278.06 713.66H287.3M277.68 743.41H288.68" fill="none"/>
<rect x="305.72" y="625.85" width="11" height="128.85" fill="#f3f3f3"/>
<rect x="306.22" y="626.35" width="10" height="48.77" fill="#fff" fill-opacity="1" stroke="none"/>
<path d="M310.72 576.59V675.12M306.1 576.59H315.34M305.72 675.12H316.72" fill="none"/>
<rect x="316.72" y="618.78" width="11" height="135.92" fill="#cecece"/>
<rect x="317.22" y="619.28" width="10" height="5.6" fill="#fff" fill-opacity="0.45" stroke="none"/>
<path d="M321.72 612.68V624.88M317.1 612.68H326.34M316.72 624.88H327.72" fill="none"/>
<rect x="327.72" y="744.39" width="11" height="10.31" fill="#a9a9a9"/>
<rect x="328.22" y="744.89" width="10" height="9.81" fill="#fff" fill-opacity="0.35" stroke="none"/>
<path d="M332.72 699.76V754.7M328.1 699.76H337.34" fill="none"/>
<rect x="338.72" y="631.95" width="11" height="122.75" fill="#7f7f7f"/>
<rect x="339.22" y="632.45" width="10" height="20.72" fill="#fff" fill-opacity="0.12" stroke="none"/>
<path d="M343.72 610.73V653.17M339.1 610.73H348.34M338.72 653.17H349.72" fill="none"/>
<rect x="349.72" y="728.54" width="11" height="26.16" fill="#4b4b4b"/>
<rect x="350.22" y="729.04" width="10" height="14.38" fill="#fff" fill-opacity="0.04" stroke="none"/>
<path d="M354.72 713.66V743.41M350.1 713.66H359.34M349.72 743.41H360.72" fill="none"/>
<rect x="377.76" y="625.85" width="11" height="128.85" fill="#f3f3f3"/>
<rect x="378.26" y="626.35" width="10" height="48.77" fill="#fff" fill-opacity="1" stroke="none"/>
<path d="M382.76 576.59V675.12M378.14 576.59H387.38M377.76 675.12H388.76" fill="none"/>
<rect x="388.76" y="618.78" width="11" height="135.92" fill="#cecece"/>
<rect x="389.26" y="619.28" width="10" height="5.6" fill="#fff" fill-opacity="0.45" stroke="none"/>
<path d="M393.76 612.68V624.88M389.14 612.68H398.38M388.76 624.88H399.76" fill="none"/>
<rect x="399.76" y="744.39" width="11" height="10.31" fill="#a9a9a9"/>
<rect x="400.26" y="744.89" width="10" height="9.81" fill="#fff" fill-opacity="0.35" stroke="none"/>
<path d="M404.76 699.76V754.7M400.14 699.76H409.38" fill="none"/>
<rect x="410.76" y="631.95" width="11" height="122.75" fill="#7f7f7f"/>
<rect x="411.26" y="632.45" width="10" height="20.72" fill="#fff" fill-opacity="0.12" stroke="none"/>
<path d="M415.76 610.73V653.17M411.14 610.73H420.38M410.76 653.17H421.76" fill="none"/>
<rect x="421.76" y="728.54" width="11" height="26.16" fill="#4b4b4b"/>
<rect x="422.26" y="729.04" width="10" height="14.38" fill="#fff" fill-opacity="0.04" stroke="none"/>
<path d="M426.76 713.66V743.41M422.14 713.66H431.38M421.76 743.41H432.76" fill="none"/>
<rect x="449.8" y="744.88" width="11" height="9.82" fill="#f3f3f3"/>
<rect x="450.3" y="745.38" width="10" height="9.32" fill="#fff" fill-opacity="1" stroke="none"/>
<path d="M454.8 734.63V754.7M450.18 734.63H459.42" fill="none"/>
<rect x="460.8" y="744.88" width="11" height="9.82" fill="#cecece"/>
<rect x="461.3" y="745.38" width="10" height="9.32" fill="#fff" fill-opacity="0.45" stroke="none"/>
<path d="M465.8 734.63V754.7M461.18 734.63H470.42" fill="none"/>
<rect x="471.8" y="734.63" width="11" height="20.07" fill="#a9a9a9"/>
<rect x="472.3" y="735.13" width="10" height="9.5" fill="#fff" fill-opacity="0.35" stroke="none"/>
<path d="M476.8 724.63V744.63M472.18 724.63H481.42M471.8 744.63H482.8" fill="none"/>
<rect x="482.8" y="679.02" width="11" height="75.68" fill="#7f7f7f"/>
<rect x="483.3" y="679.52" width="10" height="8.77" fill="#fff" fill-opacity="0.12" stroke="none"/>
<path d="M487.8 669.76V688.29M483.18 669.76H492.42M482.8 688.29H493.8" fill="none"/>
<rect x="493.8" y="661.95" width="11" height="92.75" fill="#4b4b4b"/>
<rect x="494.3" y="662.45" width="10" height="7.55" fill="#fff" fill-opacity="0.04" stroke="none"/>
<path d="M498.8 653.9V670M494.18 653.9H503.42M493.8 670H504.8" fill="none"/>
<rect x="521.84" y="711.95" width="11" height="42.75" fill="#f3f3f3"/>
<rect x="522.34" y="712.45" width="10" height="28.77" fill="#fff" fill-opacity="1" stroke="none"/>
<path d="M526.84 682.68V741.22M522.22 682.68H531.46M521.84 741.22H532.84" fill="none"/>
<rect x="532.84" y="744.88" width="11" height="9.82" fill="#cecece"/>
<rect x="533.34" y="745.38" width="10" height="9.32" fill="#fff" fill-opacity="0.45" stroke="none"/>
<path d="M537.84 727.8V754.7M533.22 727.8H542.46" fill="none"/>
<rect x="543.84" y="744.88" width="11" height="9.82" fill="#a9a9a9"/>
<rect x="544.34" y="745.38" width="10" height="9.32" fill="#fff" fill-opacity="0.35" stroke="none"/>
<path d="M548.84 734.63V754.7M544.22 734.63H553.46" fill="none"/>
<rect x="554.84" y="738.78" width="11" height="15.92" fill="#7f7f7f"/>
<rect x="555.34" y="739.28" width="10" height="15.42" fill="#fff" fill-opacity="0.12" stroke="none"/>
<path d="M559.84 711.95V754.7M555.22 711.95H564.46" fill="none"/>
<rect x="565.84" y="744.88" width="11" height="9.82" fill="#4b4b4b"/>
<rect x="566.34" y="745.38" width="10" height="8.04" fill="#fff" fill-opacity="0.04" stroke="none"/>
<path d="M570.84 736.34V753.41M566.22 736.34H575.46M565.84 753.41H576.84" fill="none"/>
<rect x="593.88" y="731.95" width="11" height="22.75" fill="#f3f3f3"/>
<rect x="594.38" y="732.45" width="10" height="11.7" fill="#fff" fill-opacity="1" stroke="none"/>
<path d="M598.88 719.76V744.15M594.26 719.76H603.5M593.88 744.15H604.88" fill="none"/>
<rect x="604.88" y="718.78" width="11" height="35.92" fill="#cecece"/>
<rect x="605.38" y="719.28" width="10" height="35.42" fill="#fff" fill-opacity="0.45" stroke="none"/>
<path d="M609.88 681.46V754.7M605.26 681.46H614.5" fill="none"/>
<rect x="615.88" y="744.88" width="11" height="9.82" fill="#a9a9a9"/>
<rect x="616.38" y="745.38" width="10" height="9.32" fill="#fff" fill-opacity="0.35" stroke="none"/>
<path d="M620.88 734.63V754.7M616.26 734.63H625.5" fill="none"/>
<rect x="626.88" y="728.54" width="11" height="26.16" fill="#7f7f7f"/>
<rect x="627.38" y="729.04" width="10" height="14.38" fill="#fff" fill-opacity="0.12" stroke="none"/>
<path d="M631.88 713.66V743.41M627.26 713.66H636.5M626.88 743.41H637.88" fill="none"/>
<rect x="637.88" y="668.78" width="11" height="85.92" fill="#4b4b4b"/>
<rect x="638.38" y="669.28" width="10" height="18.52" fill="#fff" fill-opacity="0.04" stroke="none"/>
<path d="M642.88 649.76V687.8M638.26 649.76H647.5M637.88 687.8H648.88" fill="none"/>
<rect x="665.92" y="747.8" width="11" height="6.9" fill="#f3f3f3"/>
<rect x="666.42" y="748.3" width="10" height="5.6" fill="#fff" fill-opacity="1" stroke="none"/>
<path d="M670.92 741.71V753.9M666.3 741.71H675.54M665.92 753.9H676.92" fill="none"/>
<rect x="676.92" y="718.78" width="11" height="35.92" fill="#cecece"/>
<rect x="677.42" y="719.28" width="10" height="6.33" fill="#fff" fill-opacity="0.45" stroke="none"/>
<path d="M681.92 711.95V725.61M677.3 711.95H686.54M676.92 725.61H687.92" fill="none"/>
<rect x="687.92" y="738.78" width="11" height="15.92" fill="#a9a9a9"/>
<rect x="688.42" y="739.28" width="10" height="8.52" fill="#fff" fill-opacity="0.35" stroke="none"/>
<path d="M692.92 729.76V747.8M688.3 729.76H697.54M687.92 747.8H698.92" fill="none"/>
<rect x="698.92" y="741.71" width="11" height="12.99" fill="#7f7f7f"/>
<rect x="699.42" y="742.21" width="10" height="6.57" fill="#fff" fill-opacity="0.12" stroke="none"/>
<path d="M703.92 734.63V748.78M699.3 734.63H708.54M698.92 748.78H709.92" fill="none"/>
<rect x="709.92" y="668.78" width="11" height="85.92" fill="#4b4b4b"/>
<rect x="710.42" y="669.28" width="10" height="18.52" fill="#fff" fill-opacity="0.04" stroke="none"/>
<path d="M714.92 649.76V687.8M710.3 649.76H719.54M709.92 687.8H720.92" fill="none"/>
<rect x="737.96" y="747.8" width="11" height="6.9" fill="#f3f3f3"/>
<rect x="738.46" y="748.3" width="10" height="5.6" fill="#fff" fill-opacity="1" stroke="none"/>
<path d="M742.96 741.71V753.9M738.34 741.71H747.58M737.96 753.9H748.96" fill="none"/>
<rect x="748.96" y="718.78" width="11" height="35.92" fill="#cecece"/>
<rect x="749.46" y="719.28" width="10" height="6.33" fill="#fff" fill-opacity="0.45" stroke="none"/>
<path d="M753.96 711.95V725.61M749.34 711.95H758.58M748.96 725.61H759.96" fill="none"/>
<rect x="759.96" y="738.78" width="11" height="15.92" fill="#a9a9a9"/>
<rect x="760.46" y="739.28" width="10" height="8.52" fill="#fff" fill-opacity="0.35" stroke="none"/>
<path d="M764.96 729.76V747.8M760.34 729.76H769.58M759.96 747.8H770.96" fill="none"/>
<rect x="770.96" y="741.71" width="11" height="12.99" fill="#7f7f7f"/>
<rect x="771.46" y="742.21" width="10" height="6.57" fill="#fff" fill-opacity="0.12" stroke="none"/>
<path d="M775.96 734.63V748.78M771.34 734.63H780.58M770.96 748.78H781.96" fill="none"/>
<rect x="781.96" y="668.78" width="11" height="85.92" fill="#4b4b4b"/>
<rect x="782.46" y="669.28" width="10" height="18.52" fill="#fff" fill-opacity="0.04" stroke="none"/>
<path d="M786.96 649.76V687.8M782.34 649.76H791.58M781.96 687.8H792.96" fill="none"/>
<path d="M815 737.56V754.7M810.38 737.56H819.62" fill="none"/>
<rect x="832" y="738.78" width="11" height="15.92" fill="#a9a9a9"/>
<rect x="832.5" y="739.28" width="10" height="8.52" fill="#fff" fill-opacity="0.35" stroke="none"/>
<path d="M837 729.76V747.8M832.38 729.76H841.62M832 747.8H843" fill="none"/>
<rect x="843" y="734.63" width="11" height="20.07" fill="#7f7f7f"/>
<rect x="843.5" y="735.13" width="10" height="9.5" fill="#fff" fill-opacity="0.12" stroke="none"/>
<path d="M848 724.63V744.63M843.38 724.63H852.62M843 744.63H854" fill="none"/>
<rect x="854" y="666.1" width="11" height="88.6" fill="#4b4b4b"/>
<rect x="854.5" y="666.6" width="10" height="26.82" fill="#fff" fill-opacity="0.04" stroke="none"/>
<path d="M859 638.78V693.41M854.38 638.78H863.62M854 693.41H865" fill="none"/>
</g>
<path d="M82.5 555.2V754.7H874.4M78.9 555.2H82.5M78.9 575.15H82.5M78.9 595.1H82.5M78.9 615.05H82.5M78.9 635H82.5M78.9 654.95H82.5M78.9 674.9H82.5M78.9 694.85H82.5M78.9 714.8H82.5M78.9 734.75H82.5M78.9 754.7H82.5M82.5 754.7V758.1M154.49 754.7V758.1M226.48 754.7V758.1M298.47 754.7V758.1M370.46 754.7V758.1M442.45 754.7V758.1M514.45 754.7V758.1M586.44 754.7V758.1M658.43 754.7V758.1M730.42 754.7V758.1M802.41 754.7V758.1M874.4 754.7V758.1" fill="none" stroke="#1c1c1c" stroke-width="1.2"/>
<text transform="translate(72.2 558.6) scale(0.82 1)" text-anchor="end" font-size="15.2" stroke="#3a3a3a" stroke-width="0.25" stroke-linejoin="round" fill="#3a3a3a">0.20</text>
<text transform="translate(72.2 578.55) scale(0.82 1)" text-anchor="end" font-size="15.2" stroke="#3a3a3a" stroke-width="0.25" stroke-linejoin="round" fill="#3a3a3a">0.18</text>
<text transform="translate(72.2 598.5) scale(0.82 1)" text-anchor="end" font-size="15.2" stroke="#3a3a3a" stroke-width="0.25" stroke-linejoin="round" fill="#3a3a3a">0.16</text>
<text transform="translate(72.2 618.45) scale(0.82 1)" text-anchor="end" font-size="15.2" stroke="#3a3a3a" stroke-width="0.25" stroke-linejoin="round" fill="#3a3a3a">0.14</text>
<text transform="translate(72.2 638.4) scale(0.82 1)" text-anchor="end" font-size="15.2" stroke="#3a3a3a" stroke-width="0.25" stroke-linejoin="round" fill="#3a3a3a">0.12</text>
<text transform="translate(72.2 658.35) scale(0.82 1)" text-anchor="end" font-size="15.2" stroke="#3a3a3a" stroke-width="0.25" stroke-linejoin="round" fill="#3a3a3a">0.10</text>
<text transform="translate(72.2 678.3) scale(0.82 1)" text-anchor="end" font-size="15.2" stroke="#3a3a3a" stroke-width="0.25" stroke-linejoin="round" fill="#3a3a3a">0.08</text>
<text transform="translate(72.2 698.25) scale(0.82 1)" text-anchor="end" font-size="15.2" stroke="#3a3a3a" stroke-width="0.25" stroke-linejoin="round" fill="#3a3a3a">0.06</text>
<text transform="translate(72.2 718.2) scale(0.82 1)" text-anchor="end" font-size="15.2" stroke="#3a3a3a" stroke-width="0.25" stroke-linejoin="round" fill="#3a3a3a">0.04</text>
<text transform="translate(72.2 738.15) scale(0.82 1)" text-anchor="end" font-size="15.2" stroke="#3a3a3a" stroke-width="0.25" stroke-linejoin="round" fill="#3a3a3a">0.02</text>
<text transform="translate(72.2 758.1) scale(0.82 1)" text-anchor="end" font-size="15.2" stroke="#3a3a3a" stroke-width="0.25" stroke-linejoin="round" fill="#3a3a3a">0</text>
<text transform="translate(118.5 776) scale(0.82 1)" text-anchor="middle" font-size="15.2" stroke="#3a3a3a" stroke-width="0.25" stroke-linejoin="round" fill="#3a3a3a">14</text>
<text transform="translate(190.49 776) scale(0.82 1)" text-anchor="middle" font-size="15.2" stroke="#3a3a3a" stroke-width="0.25" stroke-linejoin="round" fill="#3a3a3a">21</text>
<text transform="translate(262.48 776) scale(0.82 1)" text-anchor="middle" font-size="15.2" stroke="#3a3a3a" stroke-width="0.25" stroke-linejoin="round" fill="#3a3a3a">35</text>
<text transform="translate(334.47 776) scale(0.82 1)" text-anchor="middle" font-size="15.2" stroke="#3a3a3a" stroke-width="0.25" stroke-linejoin="round" fill="#3a3a3a">42</text>
<text transform="translate(406.46 776) scale(0.82 1)" text-anchor="middle" font-size="15.2" stroke="#3a3a3a" stroke-width="0.25" stroke-linejoin="round" fill="#3a3a3a">56</text>
<text transform="translate(478.45 776) scale(0.82 1)" text-anchor="middle" font-size="15.2" stroke="#3a3a3a" stroke-width="0.25" stroke-linejoin="round" fill="#3a3a3a">63</text>
<text transform="translate(550.44 776) scale(0.82 1)" text-anchor="middle" font-size="15.2" stroke="#3a3a3a" stroke-width="0.25" stroke-linejoin="round" fill="#3a3a3a">70</text>
<text transform="translate(622.43 776) scale(0.82 1)" text-anchor="middle" font-size="15.2" stroke="#3a3a3a" stroke-width="0.25" stroke-linejoin="round" fill="#3a3a3a">91</text>
<text transform="translate(694.42 776) scale(0.82 1)" text-anchor="middle" font-size="15.2" stroke="#3a3a3a" stroke-width="0.25" stroke-linejoin="round" fill="#3a3a3a">98</text>
<text transform="translate(766.41 776) scale(0.82 1)" text-anchor="middle" font-size="15.2" stroke="#3a3a3a" stroke-width="0.25" stroke-linejoin="round" fill="#3a3a3a">105</text>
<text transform="translate(838.4 776) scale(0.82 1)" text-anchor="middle" font-size="15.2" stroke="#3a3a3a" stroke-width="0.25" stroke-linejoin="round" fill="#3a3a3a">112</text>
<text transform="translate(38.2 645.3) rotate(-90) scale(0.72 1)" text-anchor="middle" font-size="14.6" font-weight="bold" stroke="#1a1a1a" stroke-width="0.45" stroke-linejoin="round" fill="#1a1a1a">qP</text>
<text transform="translate(86.5 550.3) scale(0.64 1)" text-anchor="start" font-size="15.2" font-weight="bold" stroke="#111" stroke-width="0.85" stroke-linejoin="round" fill="#111">C</text>
<text transform="translate(122.2 562.1) scale(1.3 1)" text-anchor="middle" font-size="10.5" font-weight="bold" fill="#2a2a2a">*</text>
<text transform="translate(186.1 608.2) scale(1.3 1)" text-anchor="middle" font-size="10.5" font-weight="bold" fill="#2a2a2a">*</text>
<text transform="translate(193.4 608.2) scale(1.3 1)" text-anchor="middle" font-size="10.5" font-weight="bold" fill="#2a2a2a">*</text>
<text transform="translate(259.3 566.2) scale(1.3 1)" text-anchor="middle" font-size="10.5" font-weight="bold" fill="#2a2a2a">*</text>
<text transform="translate(334.5 567) scale(1.3 1)" text-anchor="middle" font-size="10.5" font-weight="bold" fill="#2a2a2a">*</text>
<text transform="translate(404.5 568.2) scale(1.3 1)" text-anchor="middle" font-size="10.5" font-weight="bold" fill="#2a2a2a">*</text>
<text transform="translate(480.6 638.2) scale(1.3 1)" text-anchor="middle" font-size="10.5" font-weight="bold" fill="#2a2a2a">*</text>
<text transform="translate(487.5 638.2) scale(1.3 1)" text-anchor="middle" font-size="10.5" font-weight="bold" fill="#2a2a2a">*</text>
<text transform="translate(546.9 636.2) scale(1.3 1)" text-anchor="middle" font-size="10.5" font-weight="bold" fill="#2a2a2a">*</text>
<text transform="translate(623.7 636.2) scale(1.3 1)" text-anchor="middle" font-size="10.5" font-weight="bold" fill="#2a2a2a">*</text>
<text transform="translate(710.8 632.1) scale(1.3 1)" text-anchor="middle" font-size="10.5" font-weight="bold" fill="#2a2a2a">*</text>
<text transform="translate(717.6 632.1) scale(1.3 1)" text-anchor="middle" font-size="10.5" font-weight="bold" fill="#2a2a2a">*</text>
<text transform="translate(780.7 632.1) scale(1.3 1)" text-anchor="middle" font-size="10.5" font-weight="bold" fill="#2a2a2a">*</text>
<text transform="translate(787.6 632.1) scale(1.3 1)" text-anchor="middle" font-size="10.5" font-weight="bold" fill="#2a2a2a">*</text>
<text transform="translate(837.3 634) scale(1.3 1)" text-anchor="middle" font-size="10.5" font-weight="bold" fill="#2a2a2a">*</text>
</g>
<g id="chartD">
<g stroke="#1c1c1c" stroke-width="1.3">
<rect x="91.2" y="894.51" width="12.35" height="122.99" fill="#f3f3f3"/>
<rect x="91.7" y="895.01" width="11.35" height="2.43" fill="#fff" fill-opacity="1" stroke="none"/>
<path d="M96.88 891.59V897.44M91.69 891.59H102.06M91.2 897.44H103.55" fill="none"/>
<rect x="103.55" y="898.41" width="12.35" height="119.09" fill="#cecece"/>
<rect x="104.05" y="898.91" width="11.35" height="1.45" fill="#fff" fill-opacity="0.45" stroke="none"/>
<path d="M109.22 896.46V900.37M104.04 896.46H114.41M103.55 900.37H115.9" fill="none"/>
<rect x="115.9" y="901.34" width="12.35" height="116.16" fill="#a9a9a9"/>
<rect x="116.4" y="901.84" width="11.35" height="0.72" fill="#fff" fill-opacity="0.35" stroke="none"/>
<path d="M121.58 900.12V902.56M116.39 900.12H126.76M115.9 902.56H128.25" fill="none"/>
<rect x="128.25" y="900.85" width="12.35" height="116.65" fill="#7f7f7f"/>
<rect x="128.75" y="901.35" width="11.35" height="1.45" fill="#fff" fill-opacity="0.12" stroke="none"/>
<path d="M133.93 898.9V902.8M128.74 898.9H139.11M128.25 902.8H140.6" fill="none"/>
<rect x="140.6" y="902.56" width="12.35" height="114.94" fill="#4b4b4b"/>
<rect x="141.1" y="903.06" width="11.35" height="2.43" fill="#fff" fill-opacity="0.04" stroke="none"/>
<path d="M146.28 899.63V905.49M141.09 899.63H151.46M140.6 905.49H152.95" fill="none"/>
<rect x="170.4" y="900.61" width="12.35" height="116.89" fill="#f3f3f3"/>
<rect x="182.75" y="887.44" width="12.35" height="130.06" fill="#cecece"/>
<rect x="183.25" y="887.94" width="11.35" height="5.11" fill="#fff" fill-opacity="0.45" stroke="none"/>
<path d="M188.43 881.83V893.05M183.24 881.83H193.61M182.75 893.05H195.1" fill="none"/>
<rect x="195.1" y="889.88" width="12.35" height="127.62" fill="#a9a9a9"/>
<rect x="195.6" y="890.38" width="11.35" height="1.45" fill="#fff" fill-opacity="0.35" stroke="none"/>
<path d="M200.78 887.93V891.83M195.59 887.93H205.96M195.1 891.83H207.45" fill="none"/>
<rect x="207.45" y="892.07" width="12.35" height="125.43" fill="#7f7f7f"/>
<rect x="207.95" y="892.57" width="11.35" height="1.94" fill="#fff" fill-opacity="0.12" stroke="none"/>
<path d="M213.12 889.63V894.51M207.94 889.63H218.31M207.45 894.51H219.8" fill="none"/>
<rect x="219.8" y="887.44" width="12.35" height="130.06" fill="#4b4b4b"/>
<rect x="220.3" y="887.94" width="11.35" height="6.33" fill="#fff" fill-opacity="0.04" stroke="none"/>
<path d="M225.48 880.61V894.27M220.29 880.61H230.66M219.8 894.27H232.15" fill="none"/>
<rect x="249.6" y="884.27" width="12.35" height="133.23" fill="#f3f3f3"/>
<rect x="250.1" y="884.77" width="11.35" height="3.16" fill="#fff" fill-opacity="1" stroke="none"/>
<path d="M255.28 880.61V887.93M250.09 880.61H260.46M249.6 887.93H261.95" fill="none"/>
<rect x="261.95" y="896.46" width="12.35" height="121.04" fill="#cecece"/>
<rect x="262.45" y="896.96" width="11.35" height="1.21" fill="#fff" fill-opacity="0.45" stroke="none"/>
<path d="M267.63 894.76V898.17M262.44 894.76H272.81M261.95 898.17H274.3" fill="none"/>
<rect x="274.3" y="910.61" width="12.35" height="106.89" fill="#a9a9a9"/>
<path d="M279.98 909.88V911.34M274.79 909.88H285.16M274.3 911.34H286.65" fill="none"/>
<rect x="286.65" y="928.9" width="12.35" height="88.6" fill="#7f7f7f"/>
<path d="M292.33 928.17V929.63M287.14 928.17H297.51M286.65 929.63H299" fill="none"/>
<rect x="299" y="929.88" width="12.35" height="87.62" fill="#4b4b4b"/>
<rect x="299.5" y="930.38" width="11.35" height="0.48" fill="#fff" fill-opacity="0.04" stroke="none"/>
<path d="M304.68 928.9V930.85M299.49 928.9H309.86M299 930.85H311.35" fill="none"/>
<rect x="328.8" y="910.61" width="12.35" height="106.89" fill="#f3f3f3"/>
<rect x="329.3" y="911.11" width="11.35" height="6.33" fill="#fff" fill-opacity="1" stroke="none"/>
<path d="M334.48 903.78V917.44M329.29 903.78H339.66M328.8 917.44H341.15" fill="none"/>
<rect x="341.15" y="944.02" width="12.35" height="73.48" fill="#cecece"/>
<rect x="341.65" y="944.52" width="11.35" height="1.94" fill="#fff" fill-opacity="0.45" stroke="none"/>
<path d="M346.83 941.59V946.46M341.64 941.59H352.01M341.15 946.46H353.5" fill="none"/>
<rect x="353.5" y="923.78" width="12.35" height="93.72" fill="#a9a9a9"/>
<rect x="354" y="924.28" width="11.35" height="0.48" fill="#fff" fill-opacity="0.35" stroke="none"/>
<path d="M359.18 922.8V924.76M353.99 922.8H364.36M353.5 924.76H365.85" fill="none"/>
<rect x="365.85" y="923.78" width="12.35" height="93.72" fill="#7f7f7f"/>
<rect x="378.2" y="922.56" width="12.35" height="94.94" fill="#4b4b4b"/>
<path d="M383.88 921.83V923.29M378.69 921.83H389.06M378.2 923.29H390.55" fill="none"/>
<rect x="408" y="912.32" width="12.35" height="105.18" fill="#f3f3f3"/>
<rect x="408.5" y="912.82" width="11.35" height="1.21" fill="#fff" fill-opacity="1" stroke="none"/>
<path d="M413.68 910.61V914.02M408.49 910.61H418.86M408 914.02H420.35" fill="none"/>
<rect x="420.35" y="923.29" width="12.35" height="94.21" fill="#cecece"/>
<rect x="420.85" y="923.79" width="11.35" height="1.21" fill="#fff" fill-opacity="0.45" stroke="none"/>
<path d="M426.03 921.59V925M420.84 921.59H431.21M420.35 925H432.7" fill="none"/>
<rect x="432.7" y="945.73" width="12.35" height="71.77" fill="#a9a9a9"/>
<rect x="433.2" y="946.23" width="11.35" height="0.48" fill="#fff" fill-opacity="0.35" stroke="none"/>
<path d="M438.38 944.76V946.71M433.19 944.76H443.56M432.7 946.71H445.05" fill="none"/>
<rect x="445.05" y="941.59" width="12.35" height="75.91" fill="#7f7f7f"/>
<path d="M450.73 940.85V942.32M445.54 940.85H455.91M445.05 942.32H457.4" fill="none"/>
<rect x="457.4" y="946.95" width="12.35" height="70.55" fill="#4b4b4b"/>
<rect x="487.2" y="874.02" width="12.35" height="143.48" fill="#f3f3f3"/>
<path d="M492.88 873.29V874.76M487.69 873.29H498.06M487.2 874.76H499.55" fill="none"/>
<rect x="499.55" y="876.46" width="12.35" height="141.04" fill="#cecece"/>
<path d="M505.23 875.73V877.2M500.04 875.73H510.41M499.55 877.2H511.9" fill="none"/>
<rect x="511.9" y="881.1" width="12.35" height="136.4" fill="#a9a9a9"/>
<rect x="512.4" y="881.6" width="11.35" height="0.48" fill="#fff" fill-opacity="0.35" stroke="none"/>
<path d="M517.57 880.12V882.07M512.39 880.12H522.76M511.9 882.07H524.25" fill="none"/>
<rect x="524.25" y="886.71" width="12.35" height="130.79" fill="#7f7f7f"/>
<rect x="524.75" y="887.21" width="11.35" height="1.21" fill="#fff" fill-opacity="0.12" stroke="none"/>
<path d="M529.92 885V888.41M524.74 885H535.11M524.25 888.41H536.6" fill="none"/>
<rect x="536.6" y="893.54" width="12.35" height="123.96" fill="#4b4b4b"/>
<rect x="537.1" y="894.04" width="11.35" height="0.72" fill="#fff" fill-opacity="0.04" stroke="none"/>
<path d="M542.27 892.32V894.76M537.09 892.32H547.46M536.6 894.76H548.95" fill="none"/>
<rect x="566.4" y="849.63" width="12.35" height="167.87" fill="#f3f3f3"/>
<path d="M572.08 848.9V850.37M566.89 848.9H577.26M566.4 850.37H578.75" fill="none"/>
<rect x="578.75" y="855.73" width="12.35" height="161.77" fill="#cecece"/>
<path d="M584.43 855V856.46M579.24 855H589.61M578.75 856.46H591.1" fill="none"/>
<rect x="591.1" y="867.2" width="12.35" height="150.3" fill="#a9a9a9"/>
<rect x="591.6" y="867.7" width="11.35" height="0.72" fill="#fff" fill-opacity="0.35" stroke="none"/>
<path d="M596.78 865.98V868.41M591.59 865.98H601.96M591.1 868.41H603.45" fill="none"/>
<rect x="603.45" y="864.27" width="12.35" height="153.23" fill="#7f7f7f"/>
<path d="M609.12 863.54V865M603.94 863.54H614.31M603.45 865H615.8" fill="none"/>
<rect x="615.8" y="905.49" width="12.35" height="112.01" fill="#4b4b4b"/>
<rect x="616.3" y="905.99" width="11.35" height="1.21" fill="#fff" fill-opacity="0.04" stroke="none"/>
<path d="M621.48 903.78V907.2M616.29 903.78H626.66M615.8 907.2H628.15" fill="none"/>
<rect x="645.6" y="925" width="12.35" height="92.5" fill="#f3f3f3"/>
<path d="M651.27 924.51V925.49M646.09 924.51H656.46M645.6 925.49H657.95" fill="none"/>
<rect x="657.95" y="930.85" width="12.35" height="86.65" fill="#cecece"/>
<path d="M663.62 930.37V931.34M658.44 930.37H668.81M657.95 931.34H670.3" fill="none"/>
<rect x="670.3" y="942.32" width="12.35" height="75.18" fill="#a9a9a9"/>
<rect x="670.8" y="942.82" width="11.35" height="0.96" fill="#fff" fill-opacity="0.35" stroke="none"/>
<path d="M675.98 940.85V943.78M670.79 940.85H681.16M670.3 943.78H682.65" fill="none"/>
<rect x="682.65" y="957.93" width="12.35" height="59.57" fill="#7f7f7f"/>
<rect x="683.15" y="958.43" width="11.35" height="0.72" fill="#fff" fill-opacity="0.12" stroke="none"/>
<path d="M688.32 956.71V959.15M683.14 956.71H693.51M682.65 959.15H695" fill="none"/>
<rect x="695" y="982.56" width="12.35" height="34.94" fill="#4b4b4b"/>
<rect x="695.5" y="983.06" width="11.35" height="1.45" fill="#fff" fill-opacity="0.04" stroke="none"/>
<path d="M700.67 980.61V984.51M695.49 980.61H705.86M695 984.51H707.35" fill="none"/>
<rect x="724.8" y="932.56" width="12.35" height="84.94" fill="#f3f3f3"/>
<rect x="737.15" y="936.22" width="12.35" height="81.28" fill="#cecece"/>
<path d="M742.83 935.73V936.71M737.64 935.73H748.01M737.15 936.71H749.5" fill="none"/>
<rect x="749.5" y="951.83" width="12.35" height="65.67" fill="#a9a9a9"/>
<rect x="750" y="952.33" width="11.35" height="0.48" fill="#fff" fill-opacity="0.35" stroke="none"/>
<path d="M755.18 950.85V952.8M749.99 950.85H760.36M749.5 952.8H761.85" fill="none"/>
<rect x="761.85" y="952.32" width="12.35" height="65.18" fill="#7f7f7f"/>
<path d="M767.52 951.83V952.8M762.34 951.83H772.71M761.85 952.8H774.2" fill="none"/>
<rect x="774.2" y="976.46" width="12.35" height="41.04" fill="#4b4b4b"/>
<rect x="774.7" y="976.96" width="11.35" height="1.45" fill="#fff" fill-opacity="0.04" stroke="none"/>
<path d="M779.88 974.51V978.41M774.69 974.51H785.06M774.2 978.41H786.55" fill="none"/>
<rect x="804" y="923.78" width="12.35" height="93.72" fill="#f3f3f3"/>
<rect x="816.35" y="928.66" width="12.35" height="88.84" fill="#cecece"/>
<path d="M822.03 927.93V929.39M816.84 927.93H827.21M816.35 929.39H828.7" fill="none"/>
<rect x="828.7" y="937.2" width="12.35" height="80.3" fill="#a9a9a9"/>
<rect x="829.2" y="937.7" width="11.35" height="0.72" fill="#fff" fill-opacity="0.35" stroke="none"/>
<path d="M834.38 935.98V938.41M829.19 935.98H839.56M828.7 938.41H841.05" fill="none"/>
<rect x="841.05" y="955" width="12.35" height="62.5" fill="#7f7f7f"/>
<rect x="841.55" y="955.5" width="11.35" height="1.94" fill="#fff" fill-opacity="0.12" stroke="none"/>
<path d="M846.73 952.56V957.44M841.54 952.56H851.91M841.05 957.44H853.4" fill="none"/>
<rect x="853.4" y="1004.51" width="12.35" height="12.99" fill="#4b4b4b"/>
<rect x="853.9" y="1005.01" width="11.35" height="3.4" fill="#fff" fill-opacity="0.04" stroke="none"/>
<path d="M859.08 1000.61V1008.41M853.89 1000.61H864.26M853.4 1008.41H865.75" fill="none"/>
</g>
<path d="M82.5 818.7V1017.5H874.4M78.9 818.7H82.5M78.9 840.79H82.5M78.9 862.88H82.5M78.9 884.97H82.5M78.9 907.06H82.5M78.9 929.14H82.5M78.9 951.23H82.5M78.9 973.32H82.5M78.9 995.41H82.5M78.9 1017.5H82.5M82.5 1017.5V1020.9M161.69 1017.5V1020.9M240.88 1017.5V1020.9M320.07 1017.5V1020.9M399.26 1017.5V1020.9M478.45 1017.5V1020.9M557.64 1017.5V1020.9M636.83 1017.5V1020.9M716.02 1017.5V1020.9M795.21 1017.5V1020.9M874.4 1017.5V1020.9" fill="none" stroke="#1c1c1c" stroke-width="1.2"/>
<text transform="translate(72.2 822.1) scale(0.82 1)" text-anchor="end" font-size="15.2" stroke="#3a3a3a" stroke-width="0.25" stroke-linejoin="round" fill="#3a3a3a">38</text>
<text transform="translate(72.2 844.19) scale(0.82 1)" text-anchor="end" font-size="15.2" stroke="#3a3a3a" stroke-width="0.25" stroke-linejoin="round" fill="#3a3a3a">36</text>
<text transform="translate(72.2 866.28) scale(0.82 1)" text-anchor="end" font-size="15.2" stroke="#3a3a3a" stroke-width="0.25" stroke-linejoin="round" fill="#3a3a3a">34</text>
<text transform="translate(72.2 888.37) scale(0.82 1)" text-anchor="end" font-size="15.2" stroke="#3a3a3a" stroke-width="0.25" stroke-linejoin="round" fill="#3a3a3a">32</text>
<text transform="translate(72.2 910.46) scale(0.82 1)" text-anchor="end" font-size="15.2" stroke="#3a3a3a" stroke-width="0.25" stroke-linejoin="round" fill="#3a3a3a">30</text>
<text transform="translate(72.2 932.54) scale(0.82 1)" text-anchor="end" font-size="15.2" stroke="#3a3a3a" stroke-width="0.25" stroke-linejoin="round" fill="#3a3a3a">28</text>
<text transform="translate(72.2 954.63) scale(0.82 1)" text-anchor="end" font-size="15.2" stroke="#3a3a3a" stroke-width="0.25" stroke-linejoin="round" fill="#3a3a3a">26</text>
<text transform="translate(72.2 976.72) scale(0.82 1)" text-anchor="end" font-size="15.2" stroke="#3a3a3a" stroke-width="0.25" stroke-linejoin="round" fill="#3a3a3a">24</text>
<text transform="translate(72.2 998.81) scale(0.82 1)" text-anchor="end" font-size="15.2" stroke="#3a3a3a" stroke-width="0.25" stroke-linejoin="round" fill="#3a3a3a">22</text>
<text transform="translate(72.2 1020.9) scale(0.82 1)" text-anchor="end" font-size="15.2" stroke="#3a3a3a" stroke-width="0.25" stroke-linejoin="round" fill="#3a3a3a">20</text>
<text transform="translate(120.8 1038.8) scale(0.82 1)" text-anchor="middle" font-size="15.2" stroke="#3a3a3a" stroke-width="0.25" stroke-linejoin="round" fill="#3a3a3a">14</text>
<text transform="translate(199.98 1038.8) scale(0.82 1)" text-anchor="middle" font-size="15.2" stroke="#3a3a3a" stroke-width="0.25" stroke-linejoin="round" fill="#3a3a3a">21</text>
<text transform="translate(279.18 1038.8) scale(0.82 1)" text-anchor="middle" font-size="15.2" stroke="#3a3a3a" stroke-width="0.25" stroke-linejoin="round" fill="#3a3a3a">35</text>
<text transform="translate(358.36 1038.8) scale(0.82 1)" text-anchor="middle" font-size="15.2" stroke="#3a3a3a" stroke-width="0.25" stroke-linejoin="round" fill="#3a3a3a">42</text>
<text transform="translate(437.56 1038.8) scale(0.82 1)" text-anchor="middle" font-size="15.2" stroke="#3a3a3a" stroke-width="0.25" stroke-linejoin="round" fill="#3a3a3a">56</text>
<text transform="translate(516.75 1038.8) scale(0.82 1)" text-anchor="middle" font-size="15.2" stroke="#3a3a3a" stroke-width="0.25" stroke-linejoin="round" fill="#3a3a3a">70</text>
<text transform="translate(595.94 1038.8) scale(0.82 1)" text-anchor="middle" font-size="15.2" stroke="#3a3a3a" stroke-width="0.25" stroke-linejoin="round" fill="#3a3a3a">91</text>
<text transform="translate(675.12 1038.8) scale(0.82 1)" text-anchor="middle" font-size="15.2" stroke="#3a3a3a" stroke-width="0.25" stroke-linejoin="round" fill="#3a3a3a">98</text>
<text transform="translate(754.32 1038.8) scale(0.82 1)" text-anchor="middle" font-size="15.2" stroke="#3a3a3a" stroke-width="0.25" stroke-linejoin="round" fill="#3a3a3a">105</text>
<text transform="translate(833.5 1038.8) scale(0.82 1)" text-anchor="middle" font-size="15.2" stroke="#3a3a3a" stroke-width="0.25" stroke-linejoin="round" fill="#3a3a3a">112</text>
<text transform="translate(48 906.5) rotate(-90) scale(0.83 1)" text-anchor="middle" font-size="14.6" font-weight="bold" stroke="#1a1a1a" stroke-width="0.45" stroke-linejoin="round" fill="#1a1a1a">Leaf temperatute (°C)</text>
<text transform="translate(86.5 813.4) scale(0.64 1)" text-anchor="start" font-size="15.2" font-weight="bold" stroke="#111" stroke-width="0.85" stroke-linejoin="round" fill="#111">D</text>
<text transform="translate(205.1 870.7) scale(1.3 1)" text-anchor="middle" font-size="10.5" font-weight="bold" fill="#2a2a2a">*</text>
<text transform="translate(211.7 870.7) scale(1.3 1)" text-anchor="middle" font-size="10.5" font-weight="bold" fill="#2a2a2a">*</text>
<text transform="translate(278.3 873) scale(1.3 1)" text-anchor="middle" font-size="10.5" font-weight="bold" fill="#2a2a2a">*</text>
<text transform="translate(285.2 873) scale(1.3 1)" text-anchor="middle" font-size="10.5" font-weight="bold" fill="#2a2a2a">*</text>
<text transform="translate(348 902) scale(1.3 1)" text-anchor="middle" font-size="10.5" font-weight="bold" fill="#2a2a2a">*</text>
<text transform="translate(354.6 902) scale(1.3 1)" text-anchor="middle" font-size="10.5" font-weight="bold" fill="#2a2a2a">*</text>
<text transform="translate(429.4 900.7) scale(1.3 1)" text-anchor="middle" font-size="10.5" font-weight="bold" fill="#2a2a2a">*</text>
<text transform="translate(436.2 900.7) scale(1.3 1)" text-anchor="middle" font-size="10.5" font-weight="bold" fill="#2a2a2a">*</text>
<text transform="translate(501.2 861) scale(1.3 1)" text-anchor="middle" font-size="10.5" font-weight="bold" fill="#2a2a2a">*</text>
<text transform="translate(507.6 861) scale(1.3 1)" text-anchor="middle" font-size="10.5" font-weight="bold" fill="#2a2a2a">*</text>
<text transform="translate(585.4 841) scale(1.3 1)" text-anchor="middle" font-size="10.5" font-weight="bold" fill="#2a2a2a">*</text>
<text transform="translate(592.2 841) scale(1.3 1)" text-anchor="middle" font-size="10.5" font-weight="bold" fill="#2a2a2a">*</text>
<text transform="translate(669 911.7) scale(1.3 1)" text-anchor="middle" font-size="10.5" font-weight="bold" fill="#2a2a2a">*</text>
<text transform="translate(675.9 911.7) scale(1.3 1)" text-anchor="middle" font-size="10.5" font-weight="bold" fill="#2a2a2a">*</text>
<text transform="translate(740.3 911.7) scale(1.3 1)" text-anchor="middle" font-size="10.5" font-weight="bold" fill="#2a2a2a">*</text>
<text transform="translate(747.1 911.7) scale(1.3 1)" text-anchor="middle" font-size="10.5" font-weight="bold" fill="#2a2a2a">*</text>
<text transform="translate(816.6 911.7) scale(1.3 1)" text-anchor="middle" font-size="10.5" font-weight="bold" fill="#2a2a2a">*</text>
<text transform="translate(823.4 911.7) scale(1.3 1)" text-anchor="middle" font-size="10.5" font-weight="bold" fill="#2a2a2a">*</text>
</g>
<text transform="translate(496 1068.2) scale(0.82 1)" text-anchor="middle" font-size="14.6" font-weight="bold" stroke="#1a1a1a" stroke-width="0.45" stroke-linejoin="round" fill="#1a1a1a">Days after transplanting</text>
<rect x="83" y="1076.8" width="306.3" height="23.2" fill="#fff" stroke="#1c1c1c" stroke-width="1.2"/>
<rect x="88.4" y="1082.7" width="11.2" height="11.2" fill="#f3f3f3" stroke="#1c1c1c" stroke-width="1.1"/>
<text transform="translate(108.4 1094) scale(0.82 1)" text-anchor="start" font-size="15.2" stroke="#3a3a3a" stroke-width="0.25" stroke-linejoin="round" fill="#3a3a3a">0</text>
<rect x="134.2" y="1082.7" width="11.2" height="11.2" fill="#cecece" stroke="#1c1c1c" stroke-width="1.1"/>
<text transform="translate(154 1094) scale(0.82 1)" text-anchor="start" font-size="15.2" stroke="#3a3a3a" stroke-width="0.25" stroke-linejoin="round" fill="#3a3a3a">60</text>
<rect x="186.9" y="1082.7" width="11.2" height="11.2" fill="#a9a9a9" stroke="#1c1c1c" stroke-width="1.1"/>
<text transform="translate(206.8 1094) scale(0.82 1)" text-anchor="start" font-size="15.2" stroke="#3a3a3a" stroke-width="0.25" stroke-linejoin="round" fill="#3a3a3a">90</text>
<rect x="241" y="1082.7" width="11.2" height="11.2" fill="#7f7f7f" stroke="#1c1c1c" stroke-width="1.1"/>
<text transform="translate(261.6 1094) scale(0.82 1)" text-anchor="start" font-size="15.2" stroke="#3a3a3a" stroke-width="0.25" stroke-linejoin="round" fill="#3a3a3a">120</text>
<rect x="299.8" y="1082.7" width="11.2" height="11.2" fill="#4b4b4b" stroke="#1c1c1c" stroke-width="1.1"/>
<text transform="translate(320 1094) scale(0.82 1)" font-size="15.2" fill="#3a3a3a" stroke="#3a3a3a" stroke-width="0.25">180 kg ha<tspan font-size="8" dy="-4.6">-1</tspan></text>
</svg>
</body>
</html>
